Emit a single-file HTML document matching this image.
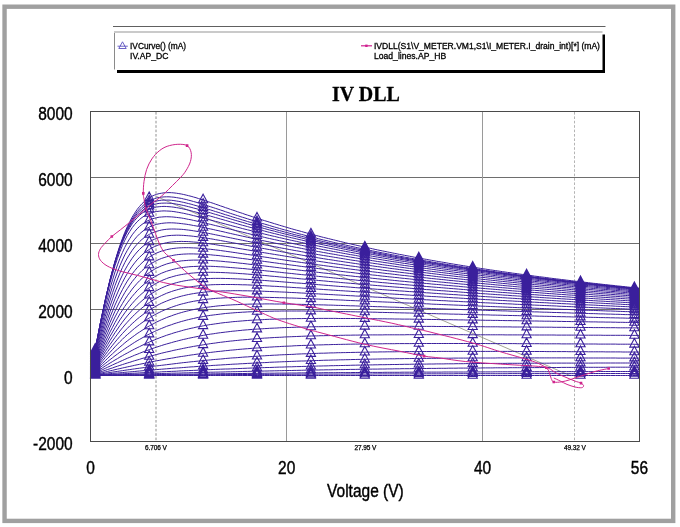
<!DOCTYPE html>
<html><head><meta charset="utf-8"><style>
html,body{margin:0;padding:0;background:#fff;width:680px;height:527px;overflow:hidden}
body{position:relative;font-family:"Liberation Sans",sans-serif}
.t{position:absolute;white-space:nowrap;color:#000;line-height:1;filter:grayscale(1)}
svg{position:absolute;left:0;top:0}
.lg{font-size:8.6px;transform-origin:0 0;-webkit-text-stroke:0.3px #000}
.yl{left:12.7px;width:60px;text-align:right;font-size:15.5px;line-height:15.5px;-webkit-text-stroke:0.35px #000;transform:scaleY(1.22);transform-origin:0 7.57px}
.xl{top:459.8px;width:60px;margin-left:-30px;text-align:center;font-size:15.5px;line-height:15.5px;-webkit-text-stroke:0.35px #000;transform:scaleY(1.22);transform-origin:0 7.57px}
</style></head><body>
<svg width="680" height="527" viewBox="0 0 680 527">
<rect x="4.55" y="6.7" width="668.65" height="514.2" fill="none" stroke="#a0a0a0" stroke-width="4.4"/>
<line x1="113" y1="26.5" x2="605.5" y2="26.5" stroke="#606060" stroke-width="1"/>
<rect x="117" y="34.5" width="488" height="38.5" fill="#000"/>
<rect x="114.5" y="31.5" width="488" height="38.5" fill="#fff"/>
<path d="M114,32 H602.5" fill="none" stroke="#cacaca" stroke-width="2"/>
<path d="M114.5,69.5 V33" fill="none" stroke="#8a8a8a" stroke-width="1"/>
<!-- legend icons -->
<g stroke="#5a50c0" stroke-width="0.9" fill="none"><path d="M122.5,41.8 L126.2,48.5 H118.8 Z"/><path d="M117.5,46.2 H127.8"/></g>
<g stroke="#d02090" stroke-width="1.2"><path d="M361,45.8 H372"/></g>
<rect x="365.2" y="44.6" width="2.4" height="2.4" fill="#d02090"/>
<!-- plot -->
<g stroke="#6e6e6e" stroke-width="1">
<line x1="90.5" y1="177.5" x2="640" y2="177.5"/>
<line x1="90.5" y1="243.5" x2="640" y2="243.5"/>
<line x1="90.5" y1="309.5" x2="640" y2="309.5"/>
</g>
<g stroke="#9a9a9a" stroke-width="1">
<line x1="286.5" y1="111.3" x2="286.5" y2="441.3"/>
<line x1="482.5" y1="111.3" x2="482.5" y2="441.3"/>
</g>
<g stroke="#909090" stroke-width="1" stroke-dasharray="2.6 1.8">
<line x1="156" y1="112" x2="156" y2="441"/>
<line x1="574.5" y1="112" x2="574.5" y2="441" stroke="#b4b4b4"/>
</g>
<line x1="156.5" y1="196.5" x2="570" y2="375.5" stroke="#8c8c78" stroke-width="0.8"/>
<g fill="none" stroke="#3a1f9c" stroke-width="1" stroke-linejoin="round"><path d="M90.5,375.5L91.5,375.5L92.5,375.5L93.4,375.5L94.4,375.4L95.4,375.4L97.9,375.4L100.3,375.4L102.8,375.3L105.2,375.3L107.7,375.3L110.1,375.2L112.6,375.2L115.0,375.2L117.5,375.1L119.9,375.1L122.4,375.0L124.8,375.0L127.3,375.0L129.8,374.9L132.2,374.9L134.7,374.9L137.1,374.8L139.6,374.8L142.0,374.8L144.5,374.7L146.9,374.7L149.4,374.7L151.8,374.6L154.3,374.6L156.7,374.6L159.2,374.5L161.6,374.5L164.1,374.5L166.5,374.4L169.0,374.4L171.5,374.4L173.9,374.3L176.4,374.3L178.8,374.3L181.3,374.2L183.7,374.2L186.2,374.2L188.6,374.1L191.1,374.1L193.5,374.1L196.0,374.0L198.4,374.0L200.9,374.0L203.3,374.0L205.8,373.9L208.2,373.9L210.7,373.9L213.2,373.8L215.6,373.8L218.1,373.8L220.5,373.7L223.0,373.7L225.4,373.7L227.9,373.7L230.3,373.6L232.8,373.6L235.2,373.6L237.7,373.5L240.1,373.5L242.6,373.5L245.0,373.5L247.5,373.4L250.0,373.4L252.4,373.4L254.9,373.4L257.3,373.3L259.8,373.3L262.2,373.3L264.7,373.3L267.1,373.2L269.6,373.2L272.0,373.2L274.5,373.2L276.9,373.1L279.4,373.1L281.8,373.1L284.3,373.1L286.8,373.1L289.2,373.0L291.7,373.0L294.1,373.0L296.6,373.0L299.0,372.9L301.5,372.9L303.9,372.9L306.4,372.9L308.8,372.9L311.3,372.8L313.7,372.8L316.2,372.8L318.6,372.8L321.1,372.8L323.5,372.7L326.0,372.7L328.5,372.7L330.9,372.7L333.4,372.7L335.8,372.7L338.3,372.6L340.7,372.6L343.2,372.6L345.6,372.6L348.1,372.6L350.5,372.6L353.0,372.5L355.4,372.5L357.9,372.5L360.3,372.5L362.8,372.5L365.2,372.5L367.7,372.4L370.2,372.4L372.6,372.4L375.1,372.4L377.5,372.4L380.0,372.4L382.4,372.4L384.9,372.3L387.3,372.3L389.8,372.3L392.2,372.3L394.7,372.3L397.1,372.3L399.6,372.3L402.0,372.2L404.5,372.2L407.0,372.2L409.4,372.2L411.9,372.2L414.3,372.2L416.8,372.2L419.2,372.2L421.7,372.1L424.1,372.1L426.6,372.1L429.0,372.1L431.5,372.1L433.9,372.1L436.4,372.1L438.8,372.1L441.3,372.1L443.8,372.0L446.2,372.0L448.7,372.0L451.1,372.0L453.6,372.0L456.0,372.0L458.5,372.0L460.9,372.0L463.4,372.0L465.8,372.0L468.3,371.9L470.7,371.9L473.2,371.9L475.6,371.9L478.1,371.9L480.5,371.9L483.0,371.9L485.5,371.9L487.9,371.9L490.4,371.9L492.8,371.9L495.3,371.8L497.7,371.8L500.2,371.8L502.6,371.8L505.1,371.8L507.5,371.8L510.0,371.8L512.4,371.8L514.9,371.8L517.3,371.8L519.8,371.8L522.2,371.8L524.7,371.7L527.2,371.7L529.6,371.7L532.1,371.7L534.5,371.7L537.0,371.7L539.4,371.7L541.9,371.7L544.3,371.7L546.8,371.7L549.2,371.7L551.7,371.7L554.1,371.7L556.6,371.7L559.0,371.6L561.5,371.6L564.0,371.6L566.4,371.6L568.9,371.6L571.3,371.6L573.8,371.6L576.2,371.6L578.7,371.6L581.1,371.6L583.6,371.6L586.0,371.6L588.5,371.6L590.9,371.6L593.4,371.6L595.8,371.5L598.3,371.5L600.8,371.5L603.2,371.5L605.7,371.5L608.1,371.5L610.6,371.5L613.0,371.5L615.5,371.5L617.9,371.5L620.4,371.5L622.8,371.5L625.3,371.5L627.7,371.5L630.2,371.5L632.6,371.5L635.1,371.5L637.5,371.4L640.0,371.4"/><path d="M90.5,375.5L91.5,375.5L92.5,375.4L93.4,375.4L94.4,375.4L95.4,375.4L97.9,375.3L100.3,375.2L102.8,375.1L105.2,375.1L107.7,375.0L110.1,374.9L112.6,374.9L115.0,374.8L117.5,374.7L119.9,374.7L122.4,374.6L124.8,374.5L127.3,374.5L129.8,374.4L132.2,374.3L134.7,374.2L137.1,374.2L139.6,374.1L142.0,374.0L144.5,374.0L146.9,373.9L149.4,373.8L151.8,373.8L154.3,373.7L156.7,373.6L159.2,373.6L161.6,373.5L164.1,373.4L166.5,373.4L169.0,373.3L171.5,373.2L173.9,373.2L176.4,373.1L178.8,373.1L181.3,373.0L183.7,372.9L186.2,372.9L188.6,372.8L191.1,372.7L193.5,372.7L196.0,372.6L198.4,372.6L200.9,372.5L203.3,372.4L205.8,372.4L208.2,372.3L210.7,372.2L213.2,372.2L215.6,372.1L218.1,372.1L220.5,372.0L223.0,372.0L225.4,371.9L227.9,371.8L230.3,371.8L232.8,371.7L235.2,371.7L237.7,371.6L240.1,371.6L242.6,371.5L245.0,371.4L247.5,371.4L250.0,371.3L252.4,371.3L254.9,371.2L257.3,371.2L259.8,371.1L262.2,371.1L264.7,371.0L267.1,371.0L269.6,370.9L272.0,370.9L274.5,370.8L276.9,370.8L279.4,370.7L281.8,370.7L284.3,370.6L286.8,370.6L289.2,370.5L291.7,370.5L294.1,370.4L296.6,370.4L299.0,370.3L301.5,370.3L303.9,370.2L306.4,370.2L308.8,370.1L311.3,370.1L313.7,370.1L316.2,370.0L318.6,370.0L321.1,369.9L323.5,369.9L326.0,369.8L328.5,369.8L330.9,369.8L333.4,369.7L335.8,369.7L338.3,369.6L340.7,369.6L343.2,369.6L345.6,369.5L348.1,369.5L350.5,369.4L353.0,369.4L355.4,369.4L357.9,369.3L360.3,369.3L362.8,369.3L365.2,369.2L367.7,369.2L370.2,369.2L372.6,369.1L375.1,369.1L377.5,369.1L380.0,369.0L382.4,369.0L384.9,369.0L387.3,368.9L389.8,368.9L392.2,368.9L394.7,368.8L397.1,368.8L399.6,368.8L402.0,368.7L404.5,368.7L407.0,368.7L409.4,368.7L411.9,368.6L414.3,368.6L416.8,368.6L419.2,368.5L421.7,368.5L424.1,368.5L426.6,368.5L429.0,368.4L431.5,368.4L433.9,368.4L436.4,368.4L438.8,368.3L441.3,368.3L443.8,368.3L446.2,368.3L448.7,368.2L451.1,368.2L453.6,368.2L456.0,368.2L458.5,368.1L460.9,368.1L463.4,368.1L465.8,368.1L468.3,368.1L470.7,368.0L473.2,368.0L475.6,368.0L478.1,368.0L480.5,368.0L483.0,367.9L485.5,367.9L487.9,367.9L490.4,367.9L492.8,367.9L495.3,367.8L497.7,367.8L500.2,367.8L502.6,367.8L505.1,367.8L507.5,367.8L510.0,367.7L512.4,367.7L514.9,367.7L517.3,367.7L519.8,367.7L522.2,367.7L524.7,367.6L527.2,367.6L529.6,367.6L532.1,367.6L534.5,367.6L537.0,367.6L539.4,367.6L541.9,367.5L544.3,367.5L546.8,367.5L549.2,367.5L551.7,367.5L554.1,367.5L556.6,367.5L559.0,367.5L561.5,367.4L564.0,367.4L566.4,367.4L568.9,367.4L571.3,367.4L573.8,367.4L576.2,367.4L578.7,367.4L581.1,367.4L583.6,367.3L586.0,367.3L588.5,367.3L590.9,367.3L593.4,367.3L595.8,367.3L598.3,367.3L600.8,367.3L603.2,367.3L605.7,367.3L608.1,367.2L610.6,367.2L613.0,367.2L615.5,367.2L617.9,367.2L620.4,367.2L622.8,367.2L625.3,367.2L627.7,367.2L630.2,367.2L632.6,367.2L635.1,367.2L637.5,367.2L640.0,367.2"/><path d="M90.5,375.5L91.5,375.4L92.5,375.4L93.4,375.3L94.4,375.3L95.4,375.2L97.9,375.1L100.3,375.0L102.8,374.8L105.2,374.7L107.7,374.6L110.1,374.5L112.6,374.3L115.0,374.2L117.5,374.1L119.9,373.9L122.4,373.8L124.8,373.7L127.3,373.6L129.8,373.4L132.2,373.3L134.7,373.2L137.1,373.1L139.6,372.9L142.0,372.8L144.5,372.7L146.9,372.6L149.4,372.4L151.8,372.3L154.3,372.2L156.7,372.1L159.2,372.0L161.6,371.8L164.1,371.7L166.5,371.6L169.0,371.5L171.5,371.4L173.9,371.3L176.4,371.2L178.8,371.0L181.3,370.9L183.7,370.8L186.2,370.7L188.6,370.6L191.1,370.5L193.5,370.4L196.0,370.3L198.4,370.2L200.9,370.1L203.3,370.0L205.8,369.8L208.2,369.7L210.7,369.6L213.2,369.5L215.6,369.4L218.1,369.3L220.5,369.2L223.0,369.1L225.4,369.0L227.9,369.0L230.3,368.9L232.8,368.8L235.2,368.7L237.7,368.6L240.1,368.5L242.6,368.4L245.0,368.3L247.5,368.2L250.0,368.1L252.4,368.0L254.9,368.0L257.3,367.9L259.8,367.8L262.2,367.7L264.7,367.6L267.1,367.5L269.6,367.5L272.0,367.4L274.5,367.3L276.9,367.2L279.4,367.1L281.8,367.1L284.3,367.0L286.8,366.9L289.2,366.8L291.7,366.8L294.1,366.7L296.6,366.6L299.0,366.6L301.5,366.5L303.9,366.4L306.4,366.4L308.8,366.3L311.3,366.2L313.7,366.2L316.2,366.1L318.6,366.0L321.1,366.0L323.5,365.9L326.0,365.9L328.5,365.8L330.9,365.7L333.4,365.7L335.8,365.6L338.3,365.6L340.7,365.5L343.2,365.5L345.6,365.4L348.1,365.4L350.5,365.3L353.0,365.2L355.4,365.2L357.9,365.1L360.3,365.1L362.8,365.1L365.2,365.0L367.7,365.0L370.2,364.9L372.6,364.9L375.1,364.8L377.5,364.8L380.0,364.7L382.4,364.7L384.9,364.7L387.3,364.6L389.8,364.6L392.2,364.5L394.7,364.5L397.1,364.5L399.6,364.4L402.0,364.4L404.5,364.3L407.0,364.3L409.4,364.3L411.9,364.2L414.3,364.2L416.8,364.2L419.2,364.1L421.7,364.1L424.1,364.1L426.6,364.1L429.0,364.0L431.5,364.0L433.9,364.0L436.4,363.9L438.8,363.9L441.3,363.9L443.8,363.9L446.2,363.8L448.7,363.8L451.1,363.8L453.6,363.8L456.0,363.7L458.5,363.7L460.9,363.7L463.4,363.7L465.8,363.6L468.3,363.6L470.7,363.6L473.2,363.6L475.6,363.6L478.1,363.5L480.5,363.5L483.0,363.5L485.5,363.5L487.9,363.5L490.4,363.5L492.8,363.4L495.3,363.4L497.7,363.4L500.2,363.4L502.6,363.4L505.1,363.4L507.5,363.3L510.0,363.3L512.4,363.3L514.9,363.3L517.3,363.3L519.8,363.3L522.2,363.3L524.7,363.3L527.2,363.2L529.6,363.2L532.1,363.2L534.5,363.2L537.0,363.2L539.4,363.2L541.9,363.2L544.3,363.2L546.8,363.2L549.2,363.2L551.7,363.1L554.1,363.1L556.6,363.1L559.0,363.1L561.5,363.1L564.0,363.1L566.4,363.1L568.9,363.1L571.3,363.1L573.8,363.1L576.2,363.1L578.7,363.1L581.1,363.1L583.6,363.1L586.0,363.1L588.5,363.1L590.9,363.1L593.4,363.1L595.8,363.0L598.3,363.0L600.8,363.0L603.2,363.0L605.7,363.0L608.1,363.0L610.6,363.0L613.0,363.0L615.5,363.0L617.9,363.0L620.4,363.0L622.8,363.0L625.3,363.0L627.7,363.0L630.2,363.0L632.6,363.0L635.1,363.0L637.5,363.0L640.0,363.0"/><path d="M90.5,375.5L91.5,375.4L92.5,375.3L93.4,375.2L94.4,375.1L95.4,375.0L97.9,374.8L100.3,374.6L102.8,374.3L105.2,374.1L107.7,373.9L110.1,373.7L112.6,373.4L115.0,373.2L117.5,373.0L119.9,372.8L122.4,372.6L124.8,372.3L127.3,372.1L129.8,371.9L132.2,371.7L134.7,371.5L137.1,371.2L139.6,371.0L142.0,370.8L144.5,370.6L146.9,370.4L149.4,370.2L151.8,370.0L154.3,369.8L156.7,369.6L159.2,369.4L161.6,369.2L164.1,369.0L166.5,368.8L169.0,368.6L171.5,368.4L173.9,368.2L176.4,368.0L178.8,367.9L181.3,367.7L183.7,367.5L186.2,367.3L188.6,367.1L191.1,366.9L193.5,366.8L196.0,366.6L198.4,366.4L200.9,366.3L203.3,366.1L205.8,365.9L208.2,365.8L210.7,365.6L213.2,365.4L215.6,365.3L218.1,365.1L220.5,365.0L223.0,364.8L225.4,364.7L227.9,364.5L230.3,364.4L232.8,364.2L235.2,364.1L237.7,364.0L240.1,363.8L242.6,363.7L245.0,363.6L247.5,363.4L250.0,363.3L252.4,363.2L254.9,363.0L257.3,362.9L259.8,362.8L262.2,362.7L264.7,362.6L267.1,362.5L269.6,362.3L272.0,362.2L274.5,362.1L276.9,362.0L279.4,361.9L281.8,361.8L284.3,361.7L286.8,361.6L289.2,361.5L291.7,361.4L294.1,361.3L296.6,361.2L299.0,361.1L301.5,361.0L303.9,361.0L306.4,360.9L308.8,360.8L311.3,360.7L313.7,360.6L316.2,360.5L318.6,360.5L321.1,360.4L323.5,360.3L326.0,360.2L328.5,360.2L330.9,360.1L333.4,360.0L335.8,360.0L338.3,359.9L340.7,359.8L343.2,359.8L345.6,359.7L348.1,359.7L350.5,359.6L353.0,359.5L355.4,359.5L357.9,359.4L360.3,359.4L362.8,359.3L365.2,359.3L367.7,359.2L370.2,359.2L372.6,359.1L375.1,359.1L377.5,359.0L380.0,359.0L382.4,358.9L384.9,358.9L387.3,358.9L389.8,358.8L392.2,358.8L394.7,358.8L397.1,358.7L399.6,358.7L402.0,358.7L404.5,358.6L407.0,358.6L409.4,358.6L411.9,358.5L414.3,358.5L416.8,358.5L419.2,358.4L421.7,358.4L424.1,358.4L426.6,358.4L429.0,358.3L431.5,358.3L433.9,358.3L436.4,358.3L438.8,358.3L441.3,358.2L443.8,358.2L446.2,358.2L448.7,358.2L451.1,358.2L453.6,358.1L456.0,358.1L458.5,358.1L460.9,358.1L463.4,358.1L465.8,358.1L468.3,358.1L470.7,358.0L473.2,358.0L475.6,358.0L478.1,358.0L480.5,358.0L483.0,358.0L485.5,358.0L487.9,358.0L490.4,358.0L492.8,358.0L495.3,358.0L497.7,357.9L500.2,357.9L502.6,357.9L505.1,357.9L507.5,357.9L510.0,357.9L512.4,357.9L514.9,357.9L517.3,357.9L519.8,357.9L522.2,357.9L524.7,357.9L527.2,357.9L529.6,357.9L532.1,357.9L534.5,357.9L537.0,357.9L539.4,357.9L541.9,357.9L544.3,357.9L546.8,357.9L549.2,357.9L551.7,357.9L554.1,357.9L556.6,357.9L559.0,357.9L561.5,357.9L564.0,357.9L566.4,357.9L568.9,357.9L571.3,357.9L573.8,357.9L576.2,357.9L578.7,358.0L581.1,358.0L583.6,358.0L586.0,358.0L588.5,358.0L590.9,358.0L593.4,358.0L595.8,358.0L598.3,358.0L600.8,358.0L603.2,358.0L605.7,358.0L608.1,358.0L610.6,358.0L613.0,358.0L615.5,358.0L617.9,358.1L620.4,358.1L622.8,358.1L625.3,358.1L627.7,358.1L630.2,358.1L632.6,358.1L635.1,358.1L637.5,358.1L640.0,358.1"/><path d="M90.5,375.5L91.5,375.3L92.5,375.2L93.4,375.0L94.4,374.9L95.4,374.7L97.9,374.4L100.3,374.0L102.8,373.6L105.2,373.2L107.7,372.9L110.1,372.5L112.6,372.1L115.0,371.8L117.5,371.4L119.9,371.0L122.4,370.7L124.8,370.3L127.3,369.9L129.8,369.6L132.2,369.2L134.7,368.9L137.1,368.5L139.6,368.2L142.0,367.9L144.5,367.5L146.9,367.2L149.4,366.9L151.8,366.5L154.3,366.2L156.7,365.9L159.2,365.6L161.6,365.3L164.1,365.0L166.5,364.7L169.0,364.4L171.5,364.1L173.9,363.8L176.4,363.5L178.8,363.2L181.3,362.9L183.7,362.6L186.2,362.4L188.6,362.1L191.1,361.8L193.5,361.6L196.0,361.3L198.4,361.1L200.9,360.8L203.3,360.6L205.8,360.3L208.2,360.1L210.7,359.9L213.2,359.6L215.6,359.4L218.1,359.2L220.5,359.0L223.0,358.8L225.4,358.5L227.9,358.3L230.3,358.1L232.8,357.9L235.2,357.8L237.7,357.6L240.1,357.4L242.6,357.2L245.0,357.0L247.5,356.9L250.0,356.7L252.4,356.5L254.9,356.4L257.3,356.2L259.8,356.1L262.2,355.9L264.7,355.8L267.1,355.6L269.6,355.5L272.0,355.3L274.5,355.2L276.9,355.1L279.4,354.9L281.8,354.8L284.3,354.7L286.8,354.6L289.2,354.5L291.7,354.4L294.1,354.3L296.6,354.1L299.0,354.0L301.5,353.9L303.9,353.8L306.4,353.8L308.8,353.7L311.3,353.6L313.7,353.5L316.2,353.4L318.6,353.3L321.1,353.2L323.5,353.2L326.0,353.1L328.5,353.0L330.9,352.9L333.4,352.9L335.8,352.8L338.3,352.7L340.7,352.7L343.2,352.6L345.6,352.6L348.1,352.5L350.5,352.5L353.0,352.4L355.4,352.4L357.9,352.3L360.3,352.3L362.8,352.2L365.2,352.2L367.7,352.1L370.2,352.1L372.6,352.0L375.1,352.0L377.5,352.0L380.0,351.9L382.4,351.9L384.9,351.9L387.3,351.8L389.8,351.8L392.2,351.8L394.7,351.8L397.1,351.7L399.6,351.7L402.0,351.7L404.5,351.7L407.0,351.6L409.4,351.6L411.9,351.6L414.3,351.6L416.8,351.6L419.2,351.5L421.7,351.5L424.1,351.5L426.6,351.5L429.0,351.5L431.5,351.5L433.9,351.5L436.4,351.5L438.8,351.4L441.3,351.4L443.8,351.4L446.2,351.4L448.7,351.4L451.1,351.4L453.6,351.4L456.0,351.4L458.5,351.4L460.9,351.4L463.4,351.4L465.8,351.4L468.3,351.4L470.7,351.4L473.2,351.4L475.6,351.4L478.1,351.4L480.5,351.4L483.0,351.4L485.5,351.4L487.9,351.4L490.4,351.4L492.8,351.4L495.3,351.4L497.7,351.4L500.2,351.4L502.6,351.4L505.1,351.4L507.5,351.4L510.0,351.4L512.4,351.4L514.9,351.4L517.3,351.5L519.8,351.5L522.2,351.5L524.7,351.5L527.2,351.5L529.6,351.5L532.1,351.5L534.5,351.5L537.0,351.5L539.4,351.5L541.9,351.5L544.3,351.5L546.8,351.6L549.2,351.6L551.7,351.6L554.1,351.6L556.6,351.6L559.0,351.6L561.5,351.6L564.0,351.6L566.4,351.6L568.9,351.7L571.3,351.7L573.8,351.7L576.2,351.7L578.7,351.7L581.1,351.7L583.6,351.7L586.0,351.7L588.5,351.8L590.9,351.8L593.4,351.8L595.8,351.8L598.3,351.8L600.8,351.8L603.2,351.8L605.7,351.9L608.1,351.9L610.6,351.9L613.0,351.9L615.5,351.9L617.9,351.9L620.4,351.9L622.8,352.0L625.3,352.0L627.7,352.0L630.2,352.0L632.6,352.0L635.1,352.0L637.5,352.0L640.0,352.1"/><path d="M90.5,375.5L91.5,375.3L92.5,375.0L93.4,374.8L94.4,374.6L95.4,374.3L97.9,373.7L100.3,373.2L102.8,372.6L105.2,372.0L107.7,371.4L110.1,370.8L112.6,370.3L115.0,369.7L117.5,369.1L119.9,368.6L122.4,368.0L124.8,367.5L127.3,366.9L129.8,366.4L132.2,365.9L134.7,365.3L137.1,364.8L139.6,364.3L142.0,363.8L144.5,363.3L146.9,362.8L149.4,362.3L151.8,361.8L154.3,361.3L156.7,360.8L159.2,360.4L161.6,359.9L164.1,359.5L166.5,359.0L169.0,358.6L171.5,358.2L173.9,357.8L176.4,357.3L178.8,356.9L181.3,356.5L183.7,356.2L186.2,355.8L188.6,355.4L191.1,355.0L193.5,354.7L196.0,354.3L198.4,354.0L200.9,353.7L203.3,353.3L205.8,353.0L208.2,352.7L210.7,352.4L213.2,352.1L215.6,351.8L218.1,351.5L220.5,351.3L223.0,351.0L225.4,350.7L227.9,350.5L230.3,350.2L232.8,350.0L235.2,349.8L237.7,349.5L240.1,349.3L242.6,349.1L245.0,348.9L247.5,348.7L250.0,348.5L252.4,348.3L254.9,348.1L257.3,348.0L259.8,347.8L262.2,347.6L264.7,347.4L267.1,347.3L269.6,347.1L272.0,347.0L274.5,346.8L276.9,346.7L279.4,346.6L281.8,346.4L284.3,346.3L286.8,346.2L289.2,346.1L291.7,346.0L294.1,345.8L296.6,345.7L299.0,345.6L301.5,345.5L303.9,345.4L306.4,345.4L308.8,345.3L311.3,345.2L313.7,345.1L316.2,345.0L318.6,344.9L321.1,344.9L323.5,344.8L326.0,344.7L328.5,344.7L330.9,344.6L333.4,344.5L335.8,344.5L338.3,344.4L340.7,344.4L343.2,344.3L345.6,344.3L348.1,344.2L350.5,344.2L353.0,344.1L355.4,344.1L357.9,344.1L360.3,344.0L362.8,344.0L365.2,343.9L367.7,343.9L370.2,343.9L372.6,343.9L375.1,343.8L377.5,343.8L380.0,343.8L382.4,343.8L384.9,343.7L387.3,343.7L389.8,343.7L392.2,343.7L394.7,343.7L397.1,343.6L399.6,343.6L402.0,343.6L404.5,343.6L407.0,343.6L409.4,343.6L411.9,343.6L414.3,343.5L416.8,343.5L419.2,343.5L421.7,343.5L424.1,343.5L426.6,343.5L429.0,343.5L431.5,343.5L433.9,343.5L436.4,343.5L438.8,343.5L441.3,343.5L443.8,343.5L446.2,343.5L448.7,343.5L451.1,343.5L453.6,343.5L456.0,343.5L458.5,343.5L460.9,343.5L463.4,343.5L465.8,343.5L468.3,343.5L470.7,343.5L473.2,343.5L475.6,343.5L478.1,343.5L480.5,343.5L483.0,343.5L485.5,343.5L487.9,343.6L490.4,343.6L492.8,343.6L495.3,343.6L497.7,343.6L500.2,343.6L502.6,343.6L505.1,343.6L507.5,343.6L510.0,343.6L512.4,343.6L514.9,343.6L517.3,343.7L519.8,343.7L522.2,343.7L524.7,343.7L527.2,343.7L529.6,343.7L532.1,343.7L534.5,343.7L537.0,343.7L539.4,343.7L541.9,343.8L544.3,343.8L546.8,343.8L549.2,343.8L551.7,343.8L554.1,343.8L556.6,343.8L559.0,343.8L561.5,343.9L564.0,343.9L566.4,343.9L568.9,343.9L571.3,343.9L573.8,343.9L576.2,343.9L578.7,343.9L581.1,344.0L583.6,344.0L586.0,344.0L588.5,344.0L590.9,344.0L593.4,344.0L595.8,344.0L598.3,344.1L600.8,344.1L603.2,344.1L605.7,344.1L608.1,344.1L610.6,344.1L613.0,344.1L615.5,344.1L617.9,344.2L620.4,344.2L622.8,344.2L625.3,344.2L627.7,344.2L630.2,344.2L632.6,344.2L635.1,344.3L637.5,344.3L640.0,344.3"/><path d="M90.5,375.5L91.5,375.2L92.5,374.8L93.4,374.5L94.4,374.1L95.4,373.8L97.9,372.9L100.3,372.1L102.8,371.2L105.2,370.4L107.7,369.5L110.1,368.7L112.6,367.9L115.0,367.0L117.5,366.2L119.9,365.4L122.4,364.6L124.8,363.8L127.3,363.0L129.8,362.3L132.2,361.5L134.7,360.7L137.1,360.0L139.6,359.3L142.0,358.5L144.5,357.8L146.9,357.1L149.4,356.5L151.8,355.8L154.3,355.1L156.7,354.5L159.2,353.8L161.6,353.2L164.1,352.6L166.5,352.0L169.0,351.5L171.5,350.9L173.9,350.3L176.4,349.8L178.8,349.3L181.3,348.8L183.7,348.3L186.2,347.8L188.6,347.3L191.1,346.9L193.5,346.4L196.0,346.0L198.4,345.6L200.9,345.2L203.3,344.8L205.8,344.4L208.2,344.0L210.7,343.6L213.2,343.3L215.6,343.0L218.1,342.6L220.5,342.3L223.0,342.0L225.4,341.7L227.9,341.4L230.3,341.1L232.8,340.9L235.2,340.6L237.7,340.4L240.1,340.1L242.6,339.9L245.0,339.7L247.5,339.5L250.0,339.2L252.4,339.0L254.9,338.9L257.3,338.7L259.8,338.5L262.2,338.3L264.7,338.1L267.1,338.0L269.6,337.8L272.0,337.7L274.5,337.5L276.9,337.4L279.4,337.3L281.8,337.2L284.3,337.0L286.8,336.9L289.2,336.8L291.7,336.7L294.1,336.6L296.6,336.5L299.0,336.4L301.5,336.3L303.9,336.2L306.4,336.1L308.8,336.1L311.3,336.0L313.7,335.9L316.2,335.9L318.6,335.8L321.1,335.7L323.5,335.7L326.0,335.6L328.5,335.6L330.9,335.5L333.4,335.5L335.8,335.4L338.3,335.4L340.7,335.3L343.2,335.3L345.6,335.2L348.1,335.2L350.5,335.2L353.0,335.1L355.4,335.1L357.9,335.1L360.3,335.0L362.8,335.0L365.2,335.0L367.7,335.0L370.2,334.9L372.6,334.9L375.1,334.9L377.5,334.9L380.0,334.9L382.4,334.9L384.9,334.8L387.3,334.8L389.8,334.8L392.2,334.8L394.7,334.8L397.1,334.8L399.6,334.8L402.0,334.8L404.5,334.8L407.0,334.7L409.4,334.7L411.9,334.7L414.3,334.7L416.8,334.7L419.2,334.7L421.7,334.7L424.1,334.7L426.6,334.7L429.0,334.7L431.5,334.7L433.9,334.7L436.4,334.7L438.8,334.7L441.3,334.7L443.8,334.7L446.2,334.7L448.7,334.7L451.1,334.7L453.6,334.7L456.0,334.7L458.5,334.7L460.9,334.7L463.4,334.7L465.8,334.8L468.3,334.8L470.7,334.8L473.2,334.8L475.6,334.8L478.1,334.8L480.5,334.8L483.0,334.8L485.5,334.8L487.9,334.8L490.4,334.8L492.8,334.8L495.3,334.8L497.7,334.8L500.2,334.8L502.6,334.8L505.1,334.9L507.5,334.9L510.0,334.9L512.4,334.9L514.9,334.9L517.3,334.9L519.8,334.9L522.2,334.9L524.7,334.9L527.2,334.9L529.6,334.9L532.1,335.0L534.5,335.0L537.0,335.0L539.4,335.0L541.9,335.0L544.3,335.0L546.8,335.0L549.2,335.0L551.7,335.0L554.1,335.0L556.6,335.1L559.0,335.1L561.5,335.1L564.0,335.1L566.4,335.1L568.9,335.1L571.3,335.1L573.8,335.1L576.2,335.1L578.7,335.1L581.1,335.2L583.6,335.2L586.0,335.2L588.5,335.2L590.9,335.2L593.4,335.2L595.8,335.2L598.3,335.2L600.8,335.2L603.2,335.3L605.7,335.3L608.1,335.3L610.6,335.3L613.0,335.3L615.5,335.3L617.9,335.3L620.4,335.3L622.8,335.3L625.3,335.3L627.7,335.4L630.2,335.4L632.6,335.4L635.1,335.4L637.5,335.4L640.0,335.4"/><path d="M90.5,375.5L91.5,375.0L92.5,374.5L93.4,374.1L94.4,373.6L95.4,373.1L97.9,371.9L100.3,370.7L102.8,369.5L105.2,368.4L107.7,367.2L110.1,366.1L112.6,364.9L115.0,363.8L117.5,362.7L119.9,361.6L122.4,360.5L124.8,359.4L127.3,358.3L129.8,357.3L132.2,356.3L134.7,355.2L137.1,354.3L139.6,353.3L142.0,352.3L144.5,351.4L146.9,350.5L149.4,349.6L151.8,348.7L154.3,347.9L156.7,347.1L159.2,346.3L161.6,345.5L164.1,344.7L166.5,344.0L169.0,343.3L171.5,342.6L173.9,341.9L176.4,341.3L178.8,340.6L181.3,340.0L183.7,339.4L186.2,338.9L188.6,338.3L191.1,337.8L193.5,337.3L196.0,336.8L198.4,336.3L200.9,335.8L203.3,335.4L205.8,334.9L208.2,334.5L210.7,334.1L213.2,333.8L215.6,333.4L218.1,333.0L220.5,332.7L223.0,332.4L225.4,332.1L227.9,331.8L230.3,331.5L232.8,331.2L235.2,331.0L237.7,330.7L240.1,330.5L242.6,330.2L245.0,330.0L247.5,329.8L250.0,329.6L252.4,329.4L254.9,329.2L257.3,329.1L259.8,328.9L262.2,328.8L264.7,328.6L267.1,328.5L269.6,328.3L272.0,328.2L274.5,328.1L276.9,328.0L279.4,327.8L281.8,327.7L284.3,327.6L286.8,327.5L289.2,327.5L291.7,327.4L294.1,327.3L296.6,327.2L299.0,327.1L301.5,327.1L303.9,327.0L306.4,327.0L308.8,326.9L311.3,326.8L313.7,326.8L316.2,326.7L318.6,326.7L321.1,326.7L323.5,326.6L326.0,326.6L328.5,326.6L330.9,326.5L333.4,326.5L335.8,326.5L338.3,326.4L340.7,326.4L343.2,326.4L345.6,326.4L348.1,326.4L350.5,326.4L353.0,326.3L355.4,326.3L357.9,326.3L360.3,326.3L362.8,326.3L365.2,326.3L367.7,326.3L370.2,326.3L372.6,326.3L375.1,326.3L377.5,326.3L380.0,326.3L382.4,326.3L384.9,326.3L387.3,326.3L389.8,326.3L392.2,326.3L394.7,326.3L397.1,326.3L399.6,326.3L402.0,326.3L404.5,326.3L407.0,326.3L409.4,326.3L411.9,326.3L414.3,326.4L416.8,326.4L419.2,326.4L421.7,326.4L424.1,326.4L426.6,326.4L429.0,326.4L431.5,326.4L433.9,326.4L436.4,326.5L438.8,326.5L441.3,326.5L443.8,326.5L446.2,326.5L448.7,326.5L451.1,326.5L453.6,326.6L456.0,326.6L458.5,326.6L460.9,326.6L463.4,326.6L465.8,326.6L468.3,326.6L470.7,326.7L473.2,326.7L475.6,326.7L478.1,326.7L480.5,326.7L483.0,326.7L485.5,326.8L487.9,326.8L490.4,326.8L492.8,326.8L495.3,326.8L497.7,326.8L500.2,326.9L502.6,326.9L505.1,326.9L507.5,326.9L510.0,326.9L512.4,327.0L514.9,327.0L517.3,327.0L519.8,327.0L522.2,327.0L524.7,327.0L527.2,327.1L529.6,327.1L532.1,327.1L534.5,327.1L537.0,327.1L539.4,327.2L541.9,327.2L544.3,327.2L546.8,327.2L549.2,327.2L551.7,327.2L554.1,327.3L556.6,327.3L559.0,327.3L561.5,327.3L564.0,327.3L566.4,327.4L568.9,327.4L571.3,327.4L573.8,327.4L576.2,327.4L578.7,327.5L581.1,327.5L583.6,327.5L586.0,327.5L588.5,327.5L590.9,327.5L593.4,327.6L595.8,327.6L598.3,327.6L600.8,327.6L603.2,327.6L605.7,327.7L608.1,327.7L610.6,327.7L613.0,327.7L615.5,327.7L617.9,327.8L620.4,327.8L622.8,327.8L625.3,327.8L627.7,327.8L630.2,327.8L632.6,327.9L635.1,327.9L637.5,327.9L640.0,327.9"/><path d="M90.5,375.5L91.5,374.9L92.5,374.2L93.4,373.6L94.4,373.0L95.4,372.3L97.9,370.7L100.3,369.2L102.8,367.6L105.2,366.0L107.7,364.5L110.1,363.0L112.6,361.5L115.0,360.0L117.5,358.6L119.9,357.1L122.4,355.7L124.8,354.3L127.3,353.0L129.8,351.6L132.2,350.3L134.7,349.0L137.1,347.8L139.6,346.6L142.0,345.4L144.5,344.2L146.9,343.1L149.4,342.0L151.8,341.0L154.3,340.0L156.7,339.0L159.2,338.0L161.6,337.1L164.1,336.2L166.5,335.3L169.0,334.5L171.5,333.7L173.9,332.9L176.4,332.2L178.8,331.5L181.3,330.8L183.7,330.1L186.2,329.5L188.6,328.9L191.1,328.3L193.5,327.8L196.0,327.2L198.4,326.7L200.9,326.3L203.3,325.8L205.8,325.4L208.2,324.9L210.7,324.5L213.2,324.2L215.6,323.8L218.1,323.5L220.5,323.1L223.0,322.8L225.4,322.5L227.9,322.3L230.3,322.0L232.8,321.7L235.2,321.5L237.7,321.3L240.1,321.1L242.6,320.9L245.0,320.7L247.5,320.5L250.0,320.3L252.4,320.2L254.9,320.0L257.3,319.9L259.8,319.8L262.2,319.7L264.7,319.5L267.1,319.4L269.6,319.3L272.0,319.2L274.5,319.2L276.9,319.1L279.4,319.0L281.8,318.9L284.3,318.9L286.8,318.8L289.2,318.8L291.7,318.7L294.1,318.7L296.6,318.6L299.0,318.6L301.5,318.6L303.9,318.5L306.4,318.5L308.8,318.5L311.3,318.5L313.7,318.5L316.2,318.5L318.6,318.4L321.1,318.4L323.5,318.4L326.0,318.4L328.5,318.4L330.9,318.4L333.4,318.4L335.8,318.4L338.3,318.5L340.7,318.5L343.2,318.5L345.6,318.5L348.1,318.5L350.5,318.5L353.0,318.5L355.4,318.5L357.9,318.6L360.3,318.6L362.8,318.6L365.2,318.6L367.7,318.7L370.2,318.7L372.6,318.7L375.1,318.7L377.5,318.8L380.0,318.8L382.4,318.8L384.9,318.8L387.3,318.9L389.8,318.9L392.2,318.9L394.7,319.0L397.1,319.0L399.6,319.0L402.0,319.1L404.5,319.1L407.0,319.1L409.4,319.1L411.9,319.2L414.3,319.2L416.8,319.2L419.2,319.3L421.7,319.3L424.1,319.4L426.6,319.4L429.0,319.4L431.5,319.5L433.9,319.5L436.4,319.5L438.8,319.6L441.3,319.6L443.8,319.6L446.2,319.7L448.7,319.7L451.1,319.7L453.6,319.8L456.0,319.8L458.5,319.9L460.9,319.9L463.4,319.9L465.8,320.0L468.3,320.0L470.7,320.0L473.2,320.1L475.6,320.1L478.1,320.1L480.5,320.2L483.0,320.2L485.5,320.3L487.9,320.3L490.4,320.3L492.8,320.4L495.3,320.4L497.7,320.4L500.2,320.5L502.6,320.5L505.1,320.6L507.5,320.6L510.0,320.6L512.4,320.7L514.9,320.7L517.3,320.7L519.8,320.8L522.2,320.8L524.7,320.9L527.2,320.9L529.6,320.9L532.1,321.0L534.5,321.0L537.0,321.0L539.4,321.1L541.9,321.1L544.3,321.2L546.8,321.2L549.2,321.2L551.7,321.3L554.1,321.3L556.6,321.3L559.0,321.4L561.5,321.4L564.0,321.5L566.4,321.5L568.9,321.5L571.3,321.6L573.8,321.6L576.2,321.6L578.7,321.7L581.1,321.7L583.6,321.7L586.0,321.8L588.5,321.8L590.9,321.9L593.4,321.9L595.8,321.9L598.3,322.0L600.8,322.0L603.2,322.0L605.7,322.1L608.1,322.1L610.6,322.1L613.0,322.2L615.5,322.2L617.9,322.3L620.4,322.3L622.8,322.3L625.3,322.4L627.7,322.4L630.2,322.4L632.6,322.5L635.1,322.5L637.5,322.5L640.0,322.6"/><path d="M90.5,375.5L91.5,374.7L92.5,373.9L93.4,373.1L94.4,372.2L95.4,371.4L97.9,369.4L100.3,367.4L102.8,365.4L105.2,363.5L107.7,361.5L110.1,359.6L112.6,357.7L115.0,355.8L117.5,354.0L119.9,352.2L122.4,350.5L124.8,348.8L127.3,347.1L129.8,345.5L132.2,343.9L134.7,342.3L137.1,340.8L139.6,339.4L142.0,338.0L144.5,336.6L146.9,335.3L149.4,334.0L151.8,332.8L154.3,331.6L156.7,330.5L159.2,329.4L161.6,328.4L164.1,327.4L166.5,326.4L169.0,325.5L171.5,324.7L173.9,323.8L176.4,323.0L178.8,322.3L181.3,321.5L183.7,320.9L186.2,320.2L188.6,319.6L191.1,319.0L193.5,318.5L196.0,317.9L198.4,317.4L200.9,317.0L203.3,316.5L205.8,316.1L208.2,315.7L210.7,315.3L213.2,315.0L215.6,314.7L218.1,314.4L220.5,314.1L223.0,313.8L225.4,313.5L227.9,313.3L230.3,313.1L232.8,312.9L235.2,312.7L237.7,312.5L240.1,312.4L242.6,312.2L245.0,312.1L247.5,311.9L250.0,311.8L252.4,311.7L254.9,311.6L257.3,311.5L259.8,311.5L262.2,311.4L264.7,311.3L267.1,311.3L269.6,311.2L272.0,311.2L274.5,311.1L276.9,311.1L279.4,311.1L281.8,311.0L284.3,311.0L286.8,311.0L289.2,311.0L291.7,311.0L294.1,311.0L296.6,311.0L299.0,311.0L301.5,311.0L303.9,311.0L306.4,311.1L308.8,311.1L311.3,311.1L313.7,311.1L316.2,311.2L318.6,311.2L321.1,311.2L323.5,311.3L326.0,311.3L328.5,311.3L330.9,311.4L333.4,311.4L335.8,311.4L338.3,311.5L340.7,311.5L343.2,311.6L345.6,311.6L348.1,311.7L350.5,311.7L353.0,311.8L355.4,311.8L357.9,311.9L360.3,311.9L362.8,312.0L365.2,312.0L367.7,312.1L370.2,312.1L372.6,312.2L375.1,312.2L377.5,312.3L380.0,312.4L382.4,312.4L384.9,312.5L387.3,312.5L389.8,312.6L392.2,312.6L394.7,312.7L397.1,312.8L399.6,312.8L402.0,312.9L404.5,312.9L407.0,313.0L409.4,313.0L411.9,313.1L414.3,313.2L416.8,313.2L419.2,313.3L421.7,313.3L424.1,313.4L426.6,313.5L429.0,313.5L431.5,313.6L433.9,313.6L436.4,313.7L438.8,313.8L441.3,313.8L443.8,313.9L446.2,313.9L448.7,314.0L451.1,314.1L453.6,314.1L456.0,314.2L458.5,314.2L460.9,314.3L463.4,314.4L465.8,314.4L468.3,314.5L470.7,314.5L473.2,314.6L475.6,314.7L478.1,314.7L480.5,314.8L483.0,314.8L485.5,314.9L487.9,314.9L490.4,315.0L492.8,315.1L495.3,315.1L497.7,315.2L500.2,315.2L502.6,315.3L505.1,315.4L507.5,315.4L510.0,315.5L512.4,315.5L514.9,315.6L517.3,315.6L519.8,315.7L522.2,315.8L524.7,315.8L527.2,315.9L529.6,315.9L532.1,316.0L534.5,316.0L537.0,316.1L539.4,316.2L541.9,316.2L544.3,316.3L546.8,316.3L549.2,316.4L551.7,316.4L554.1,316.5L556.6,316.6L559.0,316.6L561.5,316.7L564.0,316.7L566.4,316.8L568.9,316.8L571.3,316.9L573.8,317.0L576.2,317.0L578.7,317.1L581.1,317.1L583.6,317.2L586.0,317.2L588.5,317.3L590.9,317.3L593.4,317.4L595.8,317.4L598.3,317.5L600.8,317.6L603.2,317.6L605.7,317.7L608.1,317.7L610.6,317.8L613.0,317.8L615.5,317.9L617.9,317.9L620.4,318.0L622.8,318.0L625.3,318.1L627.7,318.2L630.2,318.2L632.6,318.3L635.1,318.3L637.5,318.4L640.0,318.4"/><path d="M90.5,375.5L91.5,374.5L92.5,373.5L93.4,372.5L94.4,371.5L95.4,370.5L97.9,368.0L100.3,365.5L102.8,363.1L105.2,360.7L107.7,358.3L110.1,355.9L112.6,353.7L115.0,351.4L117.5,349.2L119.9,347.1L122.4,345.0L124.8,342.9L127.3,340.9L129.8,339.0L132.2,337.2L134.7,335.4L137.1,333.6L139.6,332.0L142.0,330.4L144.5,328.8L146.9,327.3L149.4,325.9L151.8,324.6L154.3,323.3L156.7,322.0L159.2,320.8L161.6,319.7L164.1,318.7L166.5,317.6L169.0,316.7L171.5,315.8L173.9,314.9L176.4,314.1L178.8,313.3L181.3,312.6L183.7,311.9L186.2,311.3L188.6,310.7L191.1,310.1L193.5,309.6L196.0,309.1L198.4,308.6L200.9,308.2L203.3,307.8L205.8,307.4L208.2,307.1L210.7,306.8L213.2,306.5L215.6,306.2L218.1,305.9L220.5,305.7L223.0,305.5L225.4,305.3L227.9,305.1L230.3,305.0L232.8,304.8L235.2,304.7L237.7,304.6L240.1,304.4L242.6,304.4L245.0,304.3L247.5,304.2L250.0,304.1L252.4,304.1L254.9,304.0L257.3,304.0L259.8,304.0L262.2,304.0L264.7,303.9L267.1,303.9L269.6,303.9L272.0,303.9L274.5,304.0L276.9,304.0L279.4,304.0L281.8,304.0L284.3,304.1L286.8,304.1L289.2,304.1L291.7,304.2L294.1,304.2L296.6,304.3L299.0,304.3L301.5,304.4L303.9,304.4L306.4,304.5L308.8,304.5L311.3,304.6L313.7,304.7L316.2,304.7L318.6,304.8L321.1,304.9L323.5,304.9L326.0,305.0L328.5,305.1L330.9,305.1L333.4,305.2L335.8,305.3L338.3,305.4L340.7,305.4L343.2,305.5L345.6,305.6L348.1,305.7L350.5,305.8L353.0,305.8L355.4,305.9L357.9,306.0L360.3,306.1L362.8,306.2L365.2,306.2L367.7,306.3L370.2,306.4L372.6,306.5L375.1,306.6L377.5,306.7L380.0,306.7L382.4,306.8L384.9,306.9L387.3,307.0L389.8,307.1L392.2,307.2L394.7,307.2L397.1,307.3L399.6,307.4L402.0,307.5L404.5,307.6L407.0,307.7L409.4,307.8L411.9,307.8L414.3,307.9L416.8,308.0L419.2,308.1L421.7,308.2L424.1,308.3L426.6,308.3L429.0,308.4L431.5,308.5L433.9,308.6L436.4,308.7L438.8,308.8L441.3,308.8L443.8,308.9L446.2,309.0L448.7,309.1L451.1,309.2L453.6,309.2L456.0,309.3L458.5,309.4L460.9,309.5L463.4,309.6L465.8,309.7L468.3,309.7L470.7,309.8L473.2,309.9L475.6,310.0L478.1,310.1L480.5,310.1L483.0,310.2L485.5,310.3L487.9,310.4L490.4,310.5L492.8,310.5L495.3,310.6L497.7,310.7L500.2,310.8L502.6,310.9L505.1,310.9L507.5,311.0L510.0,311.1L512.4,311.2L514.9,311.2L517.3,311.3L519.8,311.4L522.2,311.5L524.7,311.6L527.2,311.6L529.6,311.7L532.1,311.8L534.5,311.9L537.0,311.9L539.4,312.0L541.9,312.1L544.3,312.2L546.8,312.2L549.2,312.3L551.7,312.4L554.1,312.5L556.6,312.5L559.0,312.6L561.5,312.7L564.0,312.8L566.4,312.8L568.9,312.9L571.3,313.0L573.8,313.1L576.2,313.1L578.7,313.2L581.1,313.3L583.6,313.3L586.0,313.4L588.5,313.5L590.9,313.6L593.4,313.6L595.8,313.7L598.3,313.8L600.8,313.9L603.2,313.9L605.7,314.0L608.1,314.1L610.6,314.1L613.0,314.2L615.5,314.3L617.9,314.3L620.4,314.4L622.8,314.5L625.3,314.6L627.7,314.6L630.2,314.7L632.6,314.8L635.1,314.8L637.5,314.9L640.0,315.0"/><path d="M90.5,375.5L91.5,374.3L92.5,373.1L93.4,371.9L94.4,370.7L95.4,369.5L97.9,366.5L100.3,363.5L102.8,360.6L105.2,357.7L107.7,354.9L110.1,352.2L112.6,349.5L115.0,346.8L117.5,344.2L119.9,341.7L122.4,339.3L124.8,336.9L127.3,334.7L129.8,332.5L132.2,330.4L134.7,328.3L137.1,326.4L139.6,324.5L142.0,322.7L144.5,321.0L146.9,319.4L149.4,317.9L151.8,316.4L154.3,315.0L156.7,313.7L159.2,312.5L161.6,311.3L164.1,310.2L166.5,309.2L169.0,308.2L171.5,307.3L173.9,306.4L176.4,305.6L178.8,304.8L181.3,304.1L183.7,303.5L186.2,302.9L188.6,302.3L191.1,301.8L193.5,301.3L196.0,300.9L198.4,300.5L200.9,300.1L203.3,299.7L205.8,299.4L208.2,299.1L210.7,298.9L213.2,298.6L215.6,298.4L218.1,298.2L220.5,298.1L223.0,297.9L225.4,297.8L227.9,297.7L230.3,297.5L232.8,297.5L235.2,297.4L237.7,297.3L240.1,297.3L242.6,297.2L245.0,297.2L247.5,297.2L250.0,297.2L252.4,297.2L254.9,297.2L257.3,297.2L259.8,297.3L262.2,297.3L264.7,297.3L267.1,297.4L269.6,297.4L272.0,297.5L274.5,297.5L276.9,297.6L279.4,297.7L281.8,297.7L284.3,297.8L286.8,297.9L289.2,298.0L291.7,298.0L294.1,298.1L296.6,298.2L299.0,298.3L301.5,298.4L303.9,298.5L306.4,298.6L308.8,298.7L311.3,298.8L313.7,298.9L316.2,299.0L318.6,299.1L321.1,299.2L323.5,299.3L326.0,299.4L328.5,299.5L330.9,299.6L333.4,299.7L335.8,299.8L338.3,299.9L340.7,300.0L343.2,300.1L345.6,300.3L348.1,300.4L350.5,300.5L353.0,300.6L355.4,300.7L357.9,300.8L360.3,300.9L362.8,301.0L365.2,301.1L367.7,301.2L370.2,301.4L372.6,301.5L375.1,301.6L377.5,301.7L380.0,301.8L382.4,301.9L384.9,302.0L387.3,302.1L389.8,302.2L392.2,302.3L394.7,302.4L397.1,302.6L399.6,302.7L402.0,302.8L404.5,302.9L407.0,303.0L409.4,303.1L411.9,303.2L414.3,303.3L416.8,303.4L419.2,303.5L421.7,303.6L424.1,303.7L426.6,303.8L429.0,303.9L431.5,304.1L433.9,304.2L436.4,304.3L438.8,304.4L441.3,304.5L443.8,304.6L446.2,304.7L448.7,304.8L451.1,304.9L453.6,305.0L456.0,305.1L458.5,305.2L460.9,305.3L463.4,305.4L465.8,305.5L468.3,305.6L470.7,305.7L473.2,305.8L475.6,305.9L478.1,306.0L480.5,306.1L483.0,306.2L485.5,306.3L487.9,306.4L490.4,306.5L492.8,306.6L495.3,306.7L497.7,306.8L500.2,306.9L502.6,307.0L505.1,307.1L507.5,307.2L510.0,307.3L512.4,307.4L514.9,307.5L517.3,307.6L519.8,307.7L522.2,307.8L524.7,307.9L527.2,308.0L529.6,308.1L532.1,308.1L534.5,308.2L537.0,308.3L539.4,308.4L541.9,308.5L544.3,308.6L546.8,308.7L549.2,308.8L551.7,308.9L554.1,309.0L556.6,309.1L559.0,309.2L561.5,309.3L564.0,309.4L566.4,309.4L568.9,309.5L571.3,309.6L573.8,309.7L576.2,309.8L578.7,309.9L581.1,310.0L583.6,310.1L586.0,310.2L588.5,310.3L590.9,310.3L593.4,310.4L595.8,310.5L598.3,310.6L600.8,310.7L603.2,310.8L605.7,310.9L608.1,311.0L610.6,311.0L613.0,311.1L615.5,311.2L617.9,311.3L620.4,311.4L622.8,311.5L625.3,311.6L627.7,311.6L630.2,311.7L632.6,311.8L635.1,311.9L637.5,312.0L640.0,312.1"/><path d="M90.5,375.5L91.5,374.1L92.5,372.7L93.4,371.2L94.4,369.8L95.4,368.4L97.9,364.9L100.3,361.5L102.8,358.1L105.2,354.8L107.7,351.5L110.1,348.3L112.6,345.2L115.0,342.2L117.5,339.2L119.9,336.4L122.4,333.6L124.8,331.0L127.3,328.4L129.8,325.9L132.2,323.6L134.7,321.4L137.1,319.2L139.6,317.2L142.0,315.3L144.5,313.4L146.9,311.7L149.4,310.1L151.8,308.5L154.3,307.1L156.7,305.7L159.2,304.4L161.6,303.2L164.1,302.1L166.5,301.1L169.0,300.1L171.5,299.2L173.9,298.4L176.4,297.6L178.8,296.9L181.3,296.2L183.7,295.6L186.2,295.0L188.6,294.5L191.1,294.0L193.5,293.6L196.0,293.2L198.4,292.9L200.9,292.6L203.3,292.3L205.8,292.0L208.2,291.8L210.7,291.6L213.2,291.4L215.6,291.3L218.1,291.1L220.5,291.0L223.0,290.9L225.4,290.9L227.9,290.8L230.3,290.8L232.8,290.7L235.2,290.7L237.7,290.7L240.1,290.7L242.6,290.8L245.0,290.8L247.5,290.8L250.0,290.9L252.4,290.9L254.9,291.0L257.3,291.1L259.8,291.1L262.2,291.2L264.7,291.3L267.1,291.4L269.6,291.5L272.0,291.6L274.5,291.7L276.9,291.8L279.4,291.9L281.8,292.0L284.3,292.1L286.8,292.2L289.2,292.4L291.7,292.5L294.1,292.6L296.6,292.7L299.0,292.9L301.5,293.0L303.9,293.1L306.4,293.3L308.8,293.4L311.3,293.5L313.7,293.7L316.2,293.8L318.6,293.9L321.1,294.1L323.5,294.2L326.0,294.3L328.5,294.5L330.9,294.6L333.4,294.7L335.8,294.9L338.3,295.0L340.7,295.1L343.2,295.3L345.6,295.4L348.1,295.6L350.5,295.7L353.0,295.8L355.4,296.0L357.9,296.1L360.3,296.2L362.8,296.4L365.2,296.5L367.7,296.7L370.2,296.8L372.6,296.9L375.1,297.1L377.5,297.2L380.0,297.3L382.4,297.5L384.9,297.6L387.3,297.7L389.8,297.9L392.2,298.0L394.7,298.1L397.1,298.3L399.6,298.4L402.0,298.5L404.5,298.7L407.0,298.8L409.4,298.9L411.9,299.0L414.3,299.2L416.8,299.3L419.2,299.4L421.7,299.6L424.1,299.7L426.6,299.8L429.0,299.9L431.5,300.1L433.9,300.2L436.4,300.3L438.8,300.5L441.3,300.6L443.8,300.7L446.2,300.8L448.7,301.0L451.1,301.1L453.6,301.2L456.0,301.3L458.5,301.4L460.9,301.6L463.4,301.7L465.8,301.8L468.3,301.9L470.7,302.1L473.2,302.2L475.6,302.3L478.1,302.4L480.5,302.5L483.0,302.7L485.5,302.8L487.9,302.9L490.4,303.0L492.8,303.1L495.3,303.2L497.7,303.4L500.2,303.5L502.6,303.6L505.1,303.7L507.5,303.8L510.0,303.9L512.4,304.0L514.9,304.2L517.3,304.3L519.8,304.4L522.2,304.5L524.7,304.6L527.2,304.7L529.6,304.8L532.1,305.0L534.5,305.1L537.0,305.2L539.4,305.3L541.9,305.4L544.3,305.5L546.8,305.6L549.2,305.7L551.7,305.8L554.1,305.9L556.6,306.0L559.0,306.2L561.5,306.3L564.0,306.4L566.4,306.5L568.9,306.6L571.3,306.7L573.8,306.8L576.2,306.9L578.7,307.0L581.1,307.1L583.6,307.2L586.0,307.3L588.5,307.4L590.9,307.5L593.4,307.6L595.8,307.7L598.3,307.8L600.8,307.9L603.2,308.0L605.7,308.1L608.1,308.2L610.6,308.3L613.0,308.4L615.5,308.5L617.9,308.6L620.4,308.7L622.8,308.8L625.3,308.9L627.7,309.0L630.2,309.1L632.6,309.2L635.1,309.3L637.5,309.4L640.0,309.5"/><path d="M90.5,375.5L91.5,373.9L92.5,372.2L93.4,370.6L94.4,369.0L95.4,367.4L97.9,363.4L100.3,359.4L102.8,355.6L105.2,351.8L107.7,348.0L110.1,344.4L112.6,340.9L115.0,337.5L117.5,334.2L119.9,331.0L122.4,327.9L124.8,325.0L127.3,322.2L129.8,319.5L132.2,316.9L134.7,314.5L137.1,312.2L139.6,310.0L142.0,307.9L144.5,306.0L146.9,304.2L149.4,302.5L151.8,300.9L154.3,299.4L156.7,298.0L159.2,296.7L161.6,295.5L164.1,294.4L166.5,293.3L169.0,292.4L171.5,291.5L173.9,290.7L176.4,290.0L178.8,289.3L181.3,288.7L183.7,288.1L186.2,287.6L188.6,287.2L191.1,286.8L193.5,286.4L196.0,286.1L198.4,285.8L200.9,285.5L203.3,285.3L205.8,285.1L208.2,285.0L210.7,284.8L213.2,284.7L215.6,284.6L218.1,284.6L220.5,284.5L223.0,284.5L225.4,284.5L227.9,284.5L230.3,284.5L232.8,284.5L235.2,284.6L237.7,284.6L240.1,284.7L242.6,284.8L245.0,284.8L247.5,284.9L250.0,285.0L252.4,285.1L254.9,285.2L257.3,285.4L259.8,285.5L262.2,285.6L264.7,285.7L267.1,285.9L269.6,286.0L272.0,286.2L274.5,286.3L276.9,286.4L279.4,286.6L281.8,286.7L284.3,286.9L286.8,287.1L289.2,287.2L291.7,287.4L294.1,287.5L296.6,287.7L299.0,287.8L301.5,288.0L303.9,288.2L306.4,288.3L308.8,288.5L311.3,288.7L313.7,288.8L316.2,289.0L318.6,289.2L321.1,289.3L323.5,289.5L326.0,289.7L328.5,289.8L330.9,290.0L333.4,290.2L335.8,290.3L338.3,290.5L340.7,290.7L343.2,290.8L345.6,291.0L348.1,291.1L350.5,291.3L353.0,291.5L355.4,291.6L357.9,291.8L360.3,292.0L362.8,292.1L365.2,292.3L367.7,292.4L370.2,292.6L372.6,292.8L375.1,292.9L377.5,293.1L380.0,293.2L382.4,293.4L384.9,293.6L387.3,293.7L389.8,293.9L392.2,294.0L394.7,294.2L397.1,294.3L399.6,294.5L402.0,294.6L404.5,294.8L407.0,295.0L409.4,295.1L411.9,295.3L414.3,295.4L416.8,295.6L419.2,295.7L421.7,295.9L424.1,296.0L426.6,296.2L429.0,296.3L431.5,296.5L433.9,296.6L436.4,296.7L438.8,296.9L441.3,297.0L443.8,297.2L446.2,297.3L448.7,297.5L451.1,297.6L453.6,297.8L456.0,297.9L458.5,298.0L460.9,298.2L463.4,298.3L465.8,298.5L468.3,298.6L470.7,298.7L473.2,298.9L475.6,299.0L478.1,299.2L480.5,299.3L483.0,299.4L485.5,299.6L487.9,299.7L490.4,299.8L492.8,300.0L495.3,300.1L497.7,300.2L500.2,300.4L502.6,300.5L505.1,300.6L507.5,300.8L510.0,300.9L512.4,301.0L514.9,301.2L517.3,301.3L519.8,301.4L522.2,301.6L524.7,301.7L527.2,301.8L529.6,301.9L532.1,302.1L534.5,302.2L537.0,302.3L539.4,302.5L541.9,302.6L544.3,302.7L546.8,302.8L549.2,303.0L551.7,303.1L554.1,303.2L556.6,303.3L559.0,303.4L561.5,303.6L564.0,303.7L566.4,303.8L568.9,303.9L571.3,304.1L573.8,304.2L576.2,304.3L578.7,304.4L581.1,304.5L583.6,304.7L586.0,304.8L588.5,304.9L590.9,305.0L593.4,305.1L595.8,305.2L598.3,305.4L600.8,305.5L603.2,305.6L605.7,305.7L608.1,305.8L610.6,305.9L613.0,306.0L615.5,306.2L617.9,306.3L620.4,306.4L622.8,306.5L625.3,306.6L627.7,306.7L630.2,306.8L632.6,306.9L635.1,307.1L637.5,307.2L640.0,307.3"/><path d="M90.5,375.5L91.5,373.6L92.5,371.8L93.4,370.0L94.4,368.1L95.4,366.3L97.9,361.8L100.3,357.3L102.8,352.9L105.2,348.7L107.7,344.5L110.1,340.4L112.6,336.5L115.0,332.7L117.5,329.1L119.9,325.5L122.4,322.2L124.8,319.0L127.3,315.9L129.8,313.0L132.2,310.2L134.7,307.6L137.1,305.2L139.6,302.9L142.0,300.7L144.5,298.7L146.9,296.8L149.4,295.0L151.8,293.4L154.3,291.9L156.7,290.5L159.2,289.2L161.6,288.0L164.1,286.9L166.5,285.9L169.0,285.0L171.5,284.2L173.9,283.4L176.4,282.7L178.8,282.1L181.3,281.5L183.7,281.0L186.2,280.6L188.6,280.2L191.1,279.9L193.5,279.6L196.0,279.3L198.4,279.1L200.9,278.9L203.3,278.7L205.8,278.6L208.2,278.5L210.7,278.5L213.2,278.4L215.6,278.4L218.1,278.4L220.5,278.4L223.0,278.4L225.4,278.5L227.9,278.5L230.3,278.6L232.8,278.7L235.2,278.8L237.7,278.9L240.1,279.0L242.6,279.1L245.0,279.3L247.5,279.4L250.0,279.5L252.4,279.7L254.9,279.9L257.3,280.0L259.8,280.2L262.2,280.3L264.7,280.5L267.1,280.7L269.6,280.9L272.0,281.1L274.5,281.2L276.9,281.4L279.4,281.6L281.8,281.8L284.3,282.0L286.8,282.2L289.2,282.4L291.7,282.6L294.1,282.8L296.6,283.0L299.0,283.1L301.5,283.3L303.9,283.5L306.4,283.7L308.8,283.9L311.3,284.1L313.7,284.3L316.2,284.5L318.6,284.7L321.1,284.9L323.5,285.1L326.0,285.3L328.5,285.5L330.9,285.7L333.4,285.9L335.8,286.1L338.3,286.3L340.7,286.5L343.2,286.6L345.6,286.8L348.1,287.0L350.5,287.2L353.0,287.4L355.4,287.6L357.9,287.8L360.3,288.0L362.8,288.2L365.2,288.3L367.7,288.5L370.2,288.7L372.6,288.9L375.1,289.1L377.5,289.3L380.0,289.4L382.4,289.6L384.9,289.8L387.3,290.0L389.8,290.2L392.2,290.3L394.7,290.5L397.1,290.7L399.6,290.9L402.0,291.0L404.5,291.2L407.0,291.4L409.4,291.6L411.9,291.7L414.3,291.9L416.8,292.1L419.2,292.3L421.7,292.4L424.1,292.6L426.6,292.8L429.0,292.9L431.5,293.1L433.9,293.3L436.4,293.4L438.8,293.6L441.3,293.8L443.8,293.9L446.2,294.1L448.7,294.3L451.1,294.4L453.6,294.6L456.0,294.7L458.5,294.9L460.9,295.1L463.4,295.2L465.8,295.4L468.3,295.5L470.7,295.7L473.2,295.8L475.6,296.0L478.1,296.2L480.5,296.3L483.0,296.5L485.5,296.6L487.9,296.8L490.4,296.9L492.8,297.1L495.3,297.2L497.7,297.4L500.2,297.5L502.6,297.7L505.1,297.8L507.5,298.0L510.0,298.1L512.4,298.3L514.9,298.4L517.3,298.6L519.8,298.7L522.2,298.9L524.7,299.0L527.2,299.1L529.6,299.3L532.1,299.4L534.5,299.6L537.0,299.7L539.4,299.9L541.9,300.0L544.3,300.1L546.8,300.3L549.2,300.4L551.7,300.5L554.1,300.7L556.6,300.8L559.0,301.0L561.5,301.1L564.0,301.2L566.4,301.4L568.9,301.5L571.3,301.6L573.8,301.8L576.2,301.9L578.7,302.0L581.1,302.2L583.6,302.3L586.0,302.4L588.5,302.6L590.9,302.7L593.4,302.8L595.8,303.0L598.3,303.1L600.8,303.2L603.2,303.3L605.7,303.5L608.1,303.6L610.6,303.7L613.0,303.9L615.5,304.0L617.9,304.1L620.4,304.2L622.8,304.4L625.3,304.5L627.7,304.6L630.2,304.7L632.6,304.9L635.1,305.0L637.5,305.1L640.0,305.2"/><path d="M90.5,375.5L91.5,373.4L92.5,371.3L93.4,369.3L94.4,367.2L95.4,365.2L97.9,360.1L100.3,355.1L102.8,350.2L105.2,345.5L107.7,340.8L110.1,336.3L112.6,332.0L115.0,327.8L117.5,323.8L119.9,319.9L122.4,316.3L124.8,312.8L127.3,309.5L129.8,306.4L132.2,303.5L134.7,300.7L137.1,298.1L139.6,295.7L142.0,293.5L144.5,291.4L146.9,289.4L149.4,287.6L151.8,286.0L154.3,284.5L156.7,283.1L159.2,281.8L161.6,280.6L164.1,279.6L166.5,278.6L169.0,277.7L171.5,277.0L173.9,276.3L176.4,275.6L178.8,275.1L181.3,274.6L183.7,274.2L186.2,273.8L188.6,273.5L191.1,273.2L193.5,273.0L196.0,272.8L198.4,272.6L200.9,272.5L203.3,272.4L205.8,272.4L208.2,272.3L210.7,272.3L213.2,272.3L215.6,272.4L218.1,272.4L220.5,272.5L223.0,272.6L225.4,272.7L227.9,272.8L230.3,273.0L232.8,273.1L235.2,273.2L237.7,273.4L240.1,273.6L242.6,273.7L245.0,273.9L247.5,274.1L250.0,274.3L252.4,274.5L254.9,274.7L257.3,274.9L259.8,275.1L262.2,275.3L264.7,275.5L267.1,275.7L269.6,276.0L272.0,276.2L274.5,276.4L276.9,276.6L279.4,276.9L281.8,277.1L284.3,277.3L286.8,277.5L289.2,277.8L291.7,278.0L294.1,278.2L296.6,278.4L299.0,278.7L301.5,278.9L303.9,279.1L306.4,279.3L308.8,279.6L311.3,279.8L313.7,280.0L316.2,280.2L318.6,280.5L321.1,280.7L323.5,280.9L326.0,281.1L328.5,281.4L330.9,281.6L333.4,281.8L335.8,282.0L338.3,282.2L340.7,282.5L343.2,282.7L345.6,282.9L348.1,283.1L350.5,283.3L353.0,283.5L355.4,283.7L357.9,284.0L360.3,284.2L362.8,284.4L365.2,284.6L367.7,284.8L370.2,285.0L372.6,285.2L375.1,285.4L377.5,285.6L380.0,285.8L382.4,286.0L384.9,286.2L387.3,286.4L389.8,286.6L392.2,286.8L394.7,287.0L397.1,287.2L399.6,287.4L402.0,287.6L404.5,287.8L407.0,288.0L409.4,288.2L411.9,288.4L414.3,288.6L416.8,288.8L419.2,289.0L421.7,289.2L424.1,289.4L426.6,289.6L429.0,289.7L431.5,289.9L433.9,290.1L436.4,290.3L438.8,290.5L441.3,290.7L443.8,290.8L446.2,291.0L448.7,291.2L451.1,291.4L453.6,291.6L456.0,291.7L458.5,291.9L460.9,292.1L463.4,292.3L465.8,292.5L468.3,292.6L470.7,292.8L473.2,293.0L475.6,293.2L478.1,293.3L480.5,293.5L483.0,293.7L485.5,293.8L487.9,294.0L490.4,294.2L492.8,294.3L495.3,294.5L497.7,294.7L500.2,294.8L502.6,295.0L505.1,295.2L507.5,295.3L510.0,295.5L512.4,295.7L514.9,295.8L517.3,296.0L519.8,296.1L522.2,296.3L524.7,296.5L527.2,296.6L529.6,296.8L532.1,296.9L534.5,297.1L537.0,297.2L539.4,297.4L541.9,297.6L544.3,297.7L546.8,297.9L549.2,298.0L551.7,298.2L554.1,298.3L556.6,298.5L559.0,298.6L561.5,298.8L564.0,298.9L566.4,299.1L568.9,299.2L571.3,299.4L573.8,299.5L576.2,299.7L578.7,299.8L581.1,300.0L583.6,300.1L586.0,300.2L588.5,300.4L590.9,300.5L593.4,300.7L595.8,300.8L598.3,301.0L600.8,301.1L603.2,301.2L605.7,301.4L608.1,301.5L610.6,301.7L613.0,301.8L615.5,301.9L617.9,302.1L620.4,302.2L622.8,302.3L625.3,302.5L627.7,302.6L630.2,302.8L632.6,302.9L635.1,303.0L637.5,303.2L640.0,303.3"/><path d="M90.5,375.5L91.5,373.2L92.5,370.8L93.4,368.5L94.4,366.2L95.4,363.9L97.9,358.3L100.3,352.7L102.8,347.3L105.2,342.0L107.7,336.9L110.1,331.9L112.6,327.2L115.0,322.6L117.5,318.2L119.9,314.0L122.4,310.1L124.8,306.4L127.3,302.8L129.8,299.5L132.2,296.4L134.7,293.5L137.1,290.8L139.6,288.3L142.0,286.0L144.5,283.9L146.9,281.9L149.4,280.1L151.8,278.5L154.3,277.0L156.7,275.6L159.2,274.3L161.6,273.2L164.1,272.2L166.5,271.3L169.0,270.5L171.5,269.8L173.9,269.2L176.4,268.6L178.8,268.1L181.3,267.7L183.7,267.4L186.2,267.1L188.6,266.8L191.1,266.6L193.5,266.5L196.0,266.4L198.4,266.3L200.9,266.2L203.3,266.2L205.8,266.2L208.2,266.3L210.7,266.3L213.2,266.4L215.6,266.5L218.1,266.7L220.5,266.8L223.0,266.9L225.4,267.1L227.9,267.3L230.3,267.5L232.8,267.7L235.2,267.9L237.7,268.1L240.1,268.3L242.6,268.5L245.0,268.7L247.5,269.0L250.0,269.2L252.4,269.5L254.9,269.7L257.3,269.9L259.8,270.2L262.2,270.4L264.7,270.7L267.1,271.0L269.6,271.2L272.0,271.5L274.5,271.7L276.9,272.0L279.4,272.2L281.8,272.5L284.3,272.8L286.8,273.0L289.2,273.3L291.7,273.5L294.1,273.8L296.6,274.1L299.0,274.3L301.5,274.6L303.9,274.8L306.4,275.1L308.8,275.4L311.3,275.6L313.7,275.9L316.2,276.1L318.6,276.4L321.1,276.6L323.5,276.9L326.0,277.1L328.5,277.4L330.9,277.6L333.4,277.9L335.8,278.1L338.3,278.4L340.7,278.6L343.2,278.8L345.6,279.1L348.1,279.3L350.5,279.6L353.0,279.8L355.4,280.0L357.9,280.3L360.3,280.5L362.8,280.7L365.2,281.0L367.7,281.2L370.2,281.4L372.6,281.7L375.1,281.9L377.5,282.1L380.0,282.4L382.4,282.6L384.9,282.8L387.3,283.0L389.8,283.3L392.2,283.5L394.7,283.7L397.1,283.9L399.6,284.1L402.0,284.3L404.5,284.6L407.0,284.8L409.4,285.0L411.9,285.2L414.3,285.4L416.8,285.6L419.2,285.8L421.7,286.1L424.1,286.3L426.6,286.5L429.0,286.7L431.5,286.9L433.9,287.1L436.4,287.3L438.8,287.5L441.3,287.7L443.8,287.9L446.2,288.1L448.7,288.3L451.1,288.5L453.6,288.7L456.0,288.9L458.5,289.1L460.9,289.3L463.4,289.5L465.8,289.7L468.3,289.9L470.7,290.0L473.2,290.2L475.6,290.4L478.1,290.6L480.5,290.8L483.0,291.0L485.5,291.2L487.9,291.4L490.4,291.5L492.8,291.7L495.3,291.9L497.7,292.1L500.2,292.3L502.6,292.5L505.1,292.6L507.5,292.8L510.0,293.0L512.4,293.2L514.9,293.3L517.3,293.5L519.8,293.7L522.2,293.9L524.7,294.0L527.2,294.2L529.6,294.4L532.1,294.6L534.5,294.7L537.0,294.9L539.4,295.1L541.9,295.2L544.3,295.4L546.8,295.6L549.2,295.7L551.7,295.9L554.1,296.1L556.6,296.2L559.0,296.4L561.5,296.6L564.0,296.7L566.4,296.9L568.9,297.0L571.3,297.2L573.8,297.4L576.2,297.5L578.7,297.7L581.1,297.8L583.6,298.0L586.0,298.2L588.5,298.3L590.9,298.5L593.4,298.6L595.8,298.8L598.3,298.9L600.8,299.1L603.2,299.2L605.7,299.4L608.1,299.5L610.6,299.7L613.0,299.8L615.5,300.0L617.9,300.1L620.4,300.3L622.8,300.4L625.3,300.6L627.7,300.7L630.2,300.9L632.6,301.0L635.1,301.2L637.5,301.3L640.0,301.4"/><path d="M90.5,375.5L91.5,372.9L92.5,370.3L93.4,367.7L94.4,365.2L95.4,362.6L97.9,356.3L100.3,350.2L102.8,344.2L105.2,338.3L107.7,332.7L110.1,327.2L112.6,322.0L115.0,317.0L117.5,312.3L119.9,307.8L122.4,303.6L124.8,299.6L127.3,295.8L129.8,292.4L132.2,289.1L134.7,286.1L137.1,283.3L139.6,280.7L142.0,278.4L144.5,276.2L146.9,274.2L149.4,272.5L151.8,270.8L154.3,269.4L156.7,268.0L159.2,266.9L161.6,265.8L164.1,264.9L166.5,264.0L169.0,263.3L171.5,262.7L173.9,262.1L176.4,261.7L178.8,261.3L181.3,260.9L183.7,260.7L186.2,260.5L188.6,260.3L191.1,260.2L193.5,260.1L196.0,260.1L198.4,260.1L200.9,260.1L203.3,260.2L205.8,260.3L208.2,260.4L210.7,260.5L213.2,260.7L215.6,260.8L218.1,261.0L220.5,261.2L223.0,261.4L225.4,261.7L227.9,261.9L230.3,262.1L232.8,262.4L235.2,262.6L237.7,262.9L240.1,263.2L242.6,263.4L245.0,263.7L247.5,264.0L250.0,264.3L252.4,264.6L254.9,264.8L257.3,265.1L259.8,265.4L262.2,265.7L264.7,266.0L267.1,266.3L269.6,266.6L272.0,266.9L274.5,267.2L276.9,267.5L279.4,267.8L281.8,268.1L284.3,268.4L286.8,268.7L289.2,269.0L291.7,269.3L294.1,269.5L296.6,269.8L299.0,270.1L301.5,270.4L303.9,270.7L306.4,271.0L308.8,271.3L311.3,271.6L313.7,271.8L316.2,272.1L318.6,272.4L321.1,272.7L323.5,273.0L326.0,273.2L328.5,273.5L330.9,273.8L333.4,274.1L335.8,274.3L338.3,274.6L340.7,274.9L343.2,275.1L345.6,275.4L348.1,275.7L350.5,275.9L353.0,276.2L355.4,276.5L357.9,276.7L360.3,277.0L362.8,277.2L365.2,277.5L367.7,277.8L370.2,278.0L372.6,278.3L375.1,278.5L377.5,278.8L380.0,279.0L382.4,279.3L384.9,279.5L387.3,279.7L389.8,280.0L392.2,280.2L394.7,280.5L397.1,280.7L399.6,281.0L402.0,281.2L404.5,281.4L407.0,281.7L409.4,281.9L411.9,282.1L414.3,282.4L416.8,282.6L419.2,282.8L421.7,283.0L424.1,283.3L426.6,283.5L429.0,283.7L431.5,284.0L433.9,284.2L436.4,284.4L438.8,284.6L441.3,284.8L443.8,285.1L446.2,285.3L448.7,285.5L451.1,285.7L453.6,285.9L456.0,286.1L458.5,286.3L460.9,286.6L463.4,286.8L465.8,287.0L468.3,287.2L470.7,287.4L473.2,287.6L475.6,287.8L478.1,288.0L480.5,288.2L483.0,288.4L485.5,288.6L487.9,288.8L490.4,289.0L492.8,289.2L495.3,289.4L497.7,289.6L500.2,289.8L502.6,290.0L505.1,290.2L507.5,290.4L510.0,290.6L512.4,290.8L514.9,291.0L517.3,291.2L519.8,291.3L522.2,291.5L524.7,291.7L527.2,291.9L529.6,292.1L532.1,292.3L534.5,292.5L537.0,292.6L539.4,292.8L541.9,293.0L544.3,293.2L546.8,293.4L549.2,293.6L551.7,293.7L554.1,293.9L556.6,294.1L559.0,294.3L561.5,294.4L564.0,294.6L566.4,294.8L568.9,295.0L571.3,295.1L573.8,295.3L576.2,295.5L578.7,295.6L581.1,295.8L583.6,296.0L586.0,296.2L588.5,296.3L590.9,296.5L593.4,296.7L595.8,296.8L598.3,297.0L600.8,297.1L603.2,297.3L605.7,297.5L608.1,297.6L610.6,297.8L613.0,298.0L615.5,298.1L617.9,298.3L620.4,298.4L622.8,298.6L625.3,298.8L627.7,298.9L630.2,299.1L632.6,299.2L635.1,299.4L637.5,299.5L640.0,299.7"/><path d="M90.5,375.5L91.5,372.6L92.5,369.7L93.4,366.9L94.4,364.0L95.4,361.2L97.9,354.3L100.3,347.4L102.8,340.8L105.2,334.4L107.7,328.2L110.1,322.3L112.6,316.6L115.0,311.2L117.5,306.1L119.9,301.3L122.4,296.8L124.8,292.5L127.3,288.6L129.8,284.9L132.2,281.6L134.7,278.5L137.1,275.6L139.6,273.0L142.0,270.6L144.5,268.5L146.9,266.5L149.4,264.7L151.8,263.2L154.3,261.8L156.7,260.5L159.2,259.4L161.6,258.4L164.1,257.6L166.5,256.8L169.0,256.2L171.5,255.7L173.9,255.2L176.4,254.8L178.8,254.5L181.3,254.3L183.7,254.1L186.2,254.0L188.6,253.9L191.1,253.9L193.5,253.9L196.0,254.0L198.4,254.0L200.9,254.2L203.3,254.3L205.8,254.5L208.2,254.6L210.7,254.8L213.2,255.1L215.6,255.3L218.1,255.5L220.5,255.8L223.0,256.1L225.4,256.4L227.9,256.6L230.3,256.9L232.8,257.2L235.2,257.5L237.7,257.9L240.1,258.2L242.6,258.5L245.0,258.8L247.5,259.1L250.0,259.5L252.4,259.8L254.9,260.1L257.3,260.5L259.8,260.8L262.2,261.1L264.7,261.5L267.1,261.8L269.6,262.1L272.0,262.5L274.5,262.8L276.9,263.1L279.4,263.5L281.8,263.8L284.3,264.1L286.8,264.4L289.2,264.8L291.7,265.1L294.1,265.4L296.6,265.7L299.0,266.1L301.5,266.4L303.9,266.7L306.4,267.0L308.8,267.3L311.3,267.6L313.7,268.0L316.2,268.3L318.6,268.6L321.1,268.9L323.5,269.2L326.0,269.5L328.5,269.8L330.9,270.1L333.4,270.4L335.8,270.7L338.3,271.0L340.7,271.3L343.2,271.6L345.6,271.9L348.1,272.2L350.5,272.4L353.0,272.7L355.4,273.0L357.9,273.3L360.3,273.6L362.8,273.9L365.2,274.1L367.7,274.4L370.2,274.7L372.6,275.0L375.1,275.2L377.5,275.5L380.0,275.8L382.4,276.1L384.9,276.3L387.3,276.6L389.8,276.9L392.2,277.1L394.7,277.4L397.1,277.6L399.6,277.9L402.0,278.2L404.5,278.4L407.0,278.7L409.4,278.9L411.9,279.2L414.3,279.4L416.8,279.7L419.2,279.9L421.7,280.2L424.1,280.4L426.6,280.7L429.0,280.9L431.5,281.1L433.9,281.4L436.4,281.6L438.8,281.9L441.3,282.1L443.8,282.3L446.2,282.6L448.7,282.8L451.1,283.0L453.6,283.3L456.0,283.5L458.5,283.7L460.9,284.0L463.4,284.2L465.8,284.4L468.3,284.6L470.7,284.9L473.2,285.1L475.6,285.3L478.1,285.5L480.5,285.7L483.0,286.0L485.5,286.2L487.9,286.4L490.4,286.6L492.8,286.8L495.3,287.0L497.7,287.2L500.2,287.5L502.6,287.7L505.1,287.9L507.5,288.1L510.0,288.3L512.4,288.5L514.9,288.7L517.3,288.9L519.8,289.1L522.2,289.3L524.7,289.5L527.2,289.7L529.6,289.9L532.1,290.1L534.5,290.3L537.0,290.5L539.4,290.7L541.9,290.9L544.3,291.1L546.8,291.3L549.2,291.5L551.7,291.7L554.1,291.9L556.6,292.0L559.0,292.2L561.5,292.4L564.0,292.6L566.4,292.8L568.9,293.0L571.3,293.2L573.8,293.3L576.2,293.5L578.7,293.7L581.1,293.9L583.6,294.1L586.0,294.3L588.5,294.4L590.9,294.6L593.4,294.8L595.8,295.0L598.3,295.1L600.8,295.3L603.2,295.5L605.7,295.7L608.1,295.8L610.6,296.0L613.0,296.2L615.5,296.3L617.9,296.5L620.4,296.7L622.8,296.9L625.3,297.0L627.7,297.2L630.2,297.4L632.6,297.5L635.1,297.7L637.5,297.8L640.0,298.0"/><path d="M90.5,375.5L91.5,372.3L92.5,369.1L93.4,366.0L94.4,362.8L95.4,359.7L97.9,352.0L100.3,344.5L102.8,337.3L105.2,330.2L107.7,323.5L110.1,317.0L112.6,310.9L115.0,305.1L117.5,299.6L119.9,294.5L122.4,289.7L124.8,285.3L127.3,281.1L129.8,277.4L132.2,273.9L134.7,270.7L137.1,267.8L139.6,265.2L142.0,262.8L144.5,260.6L146.9,258.7L149.4,257.0L151.8,255.5L154.3,254.2L156.7,253.0L159.2,252.0L161.6,251.1L164.1,250.4L166.5,249.7L169.0,249.2L171.5,248.7L173.9,248.4L176.4,248.1L178.8,247.9L181.3,247.8L183.7,247.7L186.2,247.7L188.6,247.7L191.1,247.8L193.5,247.9L196.0,248.0L198.4,248.2L200.9,248.4L203.3,248.6L205.8,248.8L208.2,249.1L210.7,249.3L213.2,249.6L215.6,249.9L218.1,250.2L220.5,250.5L223.0,250.9L225.4,251.2L227.9,251.6L230.3,251.9L232.8,252.3L235.2,252.6L237.7,253.0L240.1,253.4L242.6,253.7L245.0,254.1L247.5,254.5L250.0,254.8L252.4,255.2L254.9,255.6L257.3,255.9L259.8,256.3L262.2,256.7L264.7,257.1L267.1,257.4L269.6,257.8L272.0,258.2L274.5,258.5L276.9,258.9L279.4,259.3L281.8,259.6L284.3,260.0L286.8,260.4L289.2,260.7L291.7,261.1L294.1,261.4L296.6,261.8L299.0,262.1L301.5,262.5L303.9,262.8L306.4,263.2L308.8,263.5L311.3,263.9L313.7,264.2L316.2,264.5L318.6,264.9L321.1,265.2L323.5,265.5L326.0,265.9L328.5,266.2L330.9,266.5L333.4,266.9L335.8,267.2L338.3,267.5L340.7,267.8L343.2,268.1L345.6,268.5L348.1,268.8L350.5,269.1L353.0,269.4L355.4,269.7L357.9,270.0L360.3,270.3L362.8,270.6L365.2,270.9L367.7,271.2L370.2,271.5L372.6,271.8L375.1,272.1L377.5,272.4L380.0,272.7L382.4,273.0L384.9,273.3L387.3,273.6L389.8,273.8L392.2,274.1L394.7,274.4L397.1,274.7L399.6,275.0L402.0,275.3L404.5,275.5L407.0,275.8L409.4,276.1L411.9,276.3L414.3,276.6L416.8,276.9L419.2,277.2L421.7,277.4L424.1,277.7L426.6,277.9L429.0,278.2L431.5,278.5L433.9,278.7L436.4,279.0L438.8,279.2L441.3,279.5L443.8,279.7L446.2,280.0L448.7,280.3L451.1,280.5L453.6,280.7L456.0,281.0L458.5,281.2L460.9,281.5L463.4,281.7L465.8,282.0L468.3,282.2L470.7,282.4L473.2,282.7L475.6,282.9L478.1,283.2L480.5,283.4L483.0,283.6L485.5,283.9L487.9,284.1L490.4,284.3L492.8,284.5L495.3,284.8L497.7,285.0L500.2,285.2L502.6,285.4L505.1,285.7L507.5,285.9L510.0,286.1L512.4,286.3L514.9,286.6L517.3,286.8L519.8,287.0L522.2,287.2L524.7,287.4L527.2,287.6L529.6,287.8L532.1,288.1L534.5,288.3L537.0,288.5L539.4,288.7L541.9,288.9L544.3,289.1L546.8,289.3L549.2,289.5L551.7,289.7L554.1,289.9L556.6,290.1L559.0,290.3L561.5,290.5L564.0,290.7L566.4,290.9L568.9,291.1L571.3,291.3L573.8,291.5L576.2,291.7L578.7,291.9L581.1,292.1L583.6,292.3L586.0,292.5L588.5,292.6L590.9,292.8L593.4,293.0L595.8,293.2L598.3,293.4L600.8,293.6L603.2,293.8L605.7,293.9L608.1,294.1L610.6,294.3L613.0,294.5L615.5,294.7L617.9,294.9L620.4,295.0L622.8,295.2L625.3,295.4L627.7,295.6L630.2,295.7L632.6,295.9L635.1,296.1L637.5,296.3L640.0,296.4"/><path d="M90.5,375.5L91.5,372.0L92.5,368.5L93.4,365.0L94.4,361.6L95.4,358.1L97.9,349.7L100.3,341.5L102.8,333.5L105.2,325.9L107.7,318.6L110.1,311.6L112.6,305.0L115.0,298.8L117.5,292.9L119.9,287.5L122.4,282.5L124.8,277.8L127.3,273.5L129.8,269.6L132.2,266.1L134.7,262.8L137.1,259.9L139.6,257.3L142.0,254.9L144.5,252.8L146.9,251.0L149.4,249.4L151.8,247.9L154.3,246.7L156.7,245.6L159.2,244.7L161.6,243.9L164.1,243.3L166.5,242.7L169.0,242.3L171.5,242.0L173.9,241.8L176.4,241.6L178.8,241.5L181.3,241.4L183.7,241.5L186.2,241.5L188.6,241.6L191.1,241.8L193.5,242.0L196.0,242.2L198.4,242.4L200.9,242.7L203.3,243.0L205.8,243.3L208.2,243.6L210.7,244.0L213.2,244.3L215.6,244.7L218.1,245.1L220.5,245.5L223.0,245.8L225.4,246.2L227.9,246.6L230.3,247.0L232.8,247.4L235.2,247.9L237.7,248.3L240.1,248.7L242.6,249.1L245.0,249.5L247.5,249.9L250.0,250.3L252.4,250.8L254.9,251.2L257.3,251.6L259.8,252.0L262.2,252.4L264.7,252.8L267.1,253.2L269.6,253.6L272.0,254.0L274.5,254.4L276.9,254.8L279.4,255.2L281.8,255.6L284.3,256.0L286.8,256.4L289.2,256.8L291.7,257.2L294.1,257.6L296.6,258.0L299.0,258.3L301.5,258.7L303.9,259.1L306.4,259.5L308.8,259.9L311.3,260.2L313.7,260.6L316.2,261.0L318.6,261.3L321.1,261.7L323.5,262.0L326.0,262.4L328.5,262.8L330.9,263.1L333.4,263.5L335.8,263.8L338.3,264.2L340.7,264.5L343.2,264.8L345.6,265.2L348.1,265.5L350.5,265.9L353.0,266.2L355.4,266.5L357.9,266.9L360.3,267.2L362.8,267.5L365.2,267.8L367.7,268.2L370.2,268.5L372.6,268.8L375.1,269.1L377.5,269.4L380.0,269.7L382.4,270.1L384.9,270.4L387.3,270.7L389.8,271.0L392.2,271.3L394.7,271.6L397.1,271.9L399.6,272.2L402.0,272.5L404.5,272.8L407.0,273.1L409.4,273.4L411.9,273.7L414.3,273.9L416.8,274.2L419.2,274.5L421.7,274.8L424.1,275.1L426.6,275.4L429.0,275.6L431.5,275.9L433.9,276.2L436.4,276.5L438.8,276.8L441.3,277.0L443.8,277.3L446.2,277.6L448.7,277.8L451.1,278.1L453.6,278.4L456.0,278.6L458.5,278.9L460.9,279.1L463.4,279.4L465.8,279.7L468.3,279.9L470.7,280.2L473.2,280.4L475.6,280.7L478.1,280.9L480.5,281.2L483.0,281.4L485.5,281.7L487.9,281.9L490.4,282.2L492.8,282.4L495.3,282.6L497.7,282.9L500.2,283.1L502.6,283.4L505.1,283.6L507.5,283.8L510.0,284.1L512.4,284.3L514.9,284.5L517.3,284.8L519.8,285.0L522.2,285.2L524.7,285.4L527.2,285.7L529.6,285.9L532.1,286.1L534.5,286.3L537.0,286.6L539.4,286.8L541.9,287.0L544.3,287.2L546.8,287.4L549.2,287.7L551.7,287.9L554.1,288.1L556.6,288.3L559.0,288.5L561.5,288.7L564.0,288.9L566.4,289.1L568.9,289.3L571.3,289.6L573.8,289.8L576.2,290.0L578.7,290.2L581.1,290.4L583.6,290.6L586.0,290.8L588.5,291.0L590.9,291.2L593.4,291.4L595.8,291.6L598.3,291.8L600.8,292.0L603.2,292.2L605.7,292.3L608.1,292.5L610.6,292.7L613.0,292.9L615.5,293.1L617.9,293.3L620.4,293.5L622.8,293.7L625.3,293.9L627.7,294.1L630.2,294.2L632.6,294.4L635.1,294.6L637.5,294.8L640.0,295.0"/><path d="M90.5,375.5L91.5,371.7L92.5,367.8L93.4,364.0L94.4,360.2L95.4,356.5L97.9,347.3L100.3,338.3L102.8,329.6L105.2,321.3L107.7,313.4L110.1,305.9L112.6,298.9L115.0,292.2L117.5,286.1L119.9,280.3L122.4,275.1L124.8,270.2L127.3,265.8L129.8,261.8L132.2,258.2L134.7,254.9L137.1,252.0L139.6,249.4L142.0,247.1L144.5,245.1L146.9,243.3L149.4,241.8L151.8,240.4L154.3,239.3L156.7,238.4L159.2,237.5L161.6,236.9L164.1,236.4L166.5,235.9L169.0,235.6L171.5,235.4L173.9,235.3L176.4,235.2L178.8,235.2L181.3,235.3L183.7,235.4L186.2,235.6L188.6,235.8L191.1,236.0L193.5,236.3L196.0,236.6L198.4,236.9L200.9,237.3L203.3,237.6L205.8,238.0L208.2,238.4L210.7,238.8L213.2,239.2L215.6,239.7L218.1,240.1L220.5,240.5L223.0,241.0L225.4,241.4L227.9,241.9L230.3,242.3L232.8,242.8L235.2,243.2L237.7,243.7L240.1,244.2L242.6,244.6L245.0,245.1L247.5,245.5L250.0,246.0L252.4,246.5L254.9,246.9L257.3,247.4L259.8,247.8L262.2,248.3L264.7,248.7L267.1,249.2L269.6,249.6L272.0,250.0L274.5,250.5L276.9,250.9L279.4,251.3L281.8,251.8L284.3,252.2L286.8,252.6L289.2,253.1L291.7,253.5L294.1,253.9L296.6,254.3L299.0,254.7L301.5,255.1L303.9,255.5L306.4,255.9L308.8,256.3L311.3,256.7L313.7,257.1L316.2,257.5L318.6,257.9L321.1,258.3L323.5,258.7L326.0,259.1L328.5,259.5L330.9,259.8L333.4,260.2L335.8,260.6L338.3,261.0L340.7,261.3L343.2,261.7L345.6,262.1L348.1,262.4L350.5,262.8L353.0,263.2L355.4,263.5L357.9,263.9L360.3,264.2L362.8,264.6L365.2,264.9L367.7,265.3L370.2,265.6L372.6,265.9L375.1,266.3L377.5,266.6L380.0,266.9L382.4,267.3L384.9,267.6L387.3,267.9L389.8,268.3L392.2,268.6L394.7,268.9L397.1,269.2L399.6,269.6L402.0,269.9L404.5,270.2L407.0,270.5L409.4,270.8L411.9,271.1L414.3,271.4L416.8,271.7L419.2,272.0L421.7,272.3L424.1,272.6L426.6,272.9L429.0,273.2L431.5,273.5L433.9,273.8L436.4,274.1L438.8,274.4L441.3,274.7L443.8,275.0L446.2,275.3L448.7,275.5L451.1,275.8L453.6,276.1L456.0,276.4L458.5,276.7L460.9,276.9L463.4,277.2L465.8,277.5L468.3,277.8L470.7,278.0L473.2,278.3L475.6,278.6L478.1,278.8L480.5,279.1L483.0,279.4L485.5,279.6L487.9,279.9L490.4,280.1L492.8,280.4L495.3,280.6L497.7,280.9L500.2,281.2L502.6,281.4L505.1,281.7L507.5,281.9L510.0,282.1L512.4,282.4L514.9,282.6L517.3,282.9L519.8,283.1L522.2,283.4L524.7,283.6L527.2,283.8L529.6,284.1L532.1,284.3L534.5,284.6L537.0,284.8L539.4,285.0L541.9,285.2L544.3,285.5L546.8,285.7L549.2,285.9L551.7,286.2L554.1,286.4L556.6,286.6L559.0,286.8L561.5,287.1L564.0,287.3L566.4,287.5L568.9,287.7L571.3,287.9L573.8,288.2L576.2,288.4L578.7,288.6L581.1,288.8L583.6,289.0L586.0,289.2L588.5,289.4L590.9,289.6L593.4,289.8L595.8,290.1L598.3,290.3L600.8,290.5L603.2,290.7L605.7,290.9L608.1,291.1L610.6,291.3L613.0,291.5L615.5,291.7L617.9,291.9L620.4,292.1L622.8,292.3L625.3,292.5L627.7,292.7L630.2,292.9L632.6,293.0L635.1,293.2L637.5,293.4L640.0,293.6"/><path d="M90.5,375.5L91.5,371.3L92.5,367.1L93.4,363.0L94.4,358.8L95.4,354.8L97.9,344.7L100.3,335.0L102.8,325.6L105.2,316.6L107.7,308.1L110.1,300.1L112.6,292.6L115.0,285.6L117.5,279.0L119.9,273.1L122.4,267.6L124.8,262.6L127.3,258.0L129.8,254.0L132.2,250.3L134.7,247.0L137.1,244.2L139.6,241.6L142.0,239.4L144.5,237.4L146.9,235.8L149.4,234.3L151.8,233.1L154.3,232.1L156.7,231.3L159.2,230.6L161.6,230.0L164.1,229.6L166.5,229.3L169.0,229.1L171.5,229.0L173.9,229.0L176.4,229.1L178.8,229.2L181.3,229.3L183.7,229.5L186.2,229.8L188.6,230.1L191.1,230.4L193.5,230.8L196.0,231.2L198.4,231.6L200.9,232.0L203.3,232.4L205.8,232.9L208.2,233.3L210.7,233.8L213.2,234.3L215.6,234.8L218.1,235.3L220.5,235.8L223.0,236.3L225.4,236.8L227.9,237.3L230.3,237.8L232.8,238.3L235.2,238.8L237.7,239.3L240.1,239.8L242.6,240.3L245.0,240.8L247.5,241.3L250.0,241.8L252.4,242.3L254.9,242.8L257.3,243.3L259.8,243.8L262.2,244.3L264.7,244.8L267.1,245.2L269.6,245.7L272.0,246.2L274.5,246.7L276.9,247.1L279.4,247.6L281.8,248.1L284.3,248.5L286.8,249.0L289.2,249.5L291.7,249.9L294.1,250.4L296.6,250.8L299.0,251.2L301.5,251.7L303.9,252.1L306.4,252.6L308.8,253.0L311.3,253.4L313.7,253.8L316.2,254.3L318.6,254.7L321.1,255.1L323.5,255.5L326.0,255.9L328.5,256.3L330.9,256.7L333.4,257.1L335.8,257.5L338.3,257.9L340.7,258.3L343.2,258.7L345.6,259.1L348.1,259.5L350.5,259.9L353.0,260.3L355.4,260.6L357.9,261.0L360.3,261.4L362.8,261.8L365.2,262.1L367.7,262.5L370.2,262.9L372.6,263.2L375.1,263.6L377.5,263.9L380.0,264.3L382.4,264.7L384.9,265.0L387.3,265.4L389.8,265.7L392.2,266.0L394.7,266.4L397.1,266.7L399.6,267.1L402.0,267.4L404.5,267.7L407.0,268.1L409.4,268.4L411.9,268.7L414.3,269.1L416.8,269.4L419.2,269.7L421.7,270.0L424.1,270.3L426.6,270.7L429.0,271.0L431.5,271.3L433.9,271.6L436.4,271.9L438.8,272.2L441.3,272.5L443.8,272.8L446.2,273.1L448.7,273.4L451.1,273.7L453.6,274.0L456.0,274.3L458.5,274.6L460.9,274.9L463.4,275.2L465.8,275.5L468.3,275.8L470.7,276.0L473.2,276.3L475.6,276.6L478.1,276.9L480.5,277.2L483.0,277.4L485.5,277.7L487.9,278.0L490.4,278.3L492.8,278.5L495.3,278.8L497.7,279.1L500.2,279.3L502.6,279.6L505.1,279.9L507.5,280.1L510.0,280.4L512.4,280.6L514.9,280.9L517.3,281.1L519.8,281.4L522.2,281.7L524.7,281.9L527.2,282.2L529.6,282.4L532.1,282.7L534.5,282.9L537.0,283.1L539.4,283.4L541.9,283.6L544.3,283.9L546.8,284.1L549.2,284.4L551.7,284.6L554.1,284.8L556.6,285.1L559.0,285.3L561.5,285.5L564.0,285.8L566.4,286.0L568.9,286.2L571.3,286.4L573.8,286.7L576.2,286.9L578.7,287.1L581.1,287.3L583.6,287.6L586.0,287.8L588.5,288.0L590.9,288.2L593.4,288.5L595.8,288.7L598.3,288.9L600.8,289.1L603.2,289.3L605.7,289.5L608.1,289.7L610.6,289.9L613.0,290.2L615.5,290.4L617.9,290.6L620.4,290.8L622.8,291.0L625.3,291.2L627.7,291.4L630.2,291.6L632.6,291.8L635.1,292.0L637.5,292.2L640.0,292.4"/><path d="M90.5,375.5L91.5,370.9L92.5,366.4L93.4,361.9L94.4,357.4L95.4,353.0L97.9,342.1L100.3,331.6L102.8,321.5L105.2,311.8L107.7,302.7L110.1,294.2L112.6,286.2L115.0,278.8L117.5,272.0L119.9,265.7L122.4,260.0L124.8,254.9L127.3,250.3L129.8,246.2L132.2,242.5L134.7,239.2L137.1,236.4L139.6,233.9L142.0,231.8L144.5,229.9L146.9,228.4L149.4,227.0L151.8,226.0L154.3,225.1L156.7,224.3L159.2,223.8L161.6,223.4L164.1,223.1L166.5,222.9L169.0,222.8L171.5,222.8L173.9,222.9L176.4,223.1L178.8,223.3L181.3,223.6L183.7,223.9L186.2,224.2L188.6,224.6L191.1,225.0L193.5,225.5L196.0,225.9L198.4,226.4L200.9,226.9L203.3,227.4L205.8,227.9L208.2,228.5L210.7,229.0L213.2,229.5L215.6,230.1L218.1,230.6L220.5,231.2L223.0,231.7L225.4,232.3L227.9,232.9L230.3,233.4L232.8,234.0L235.2,234.5L237.7,235.1L240.1,235.6L242.6,236.2L245.0,236.7L247.5,237.3L250.0,237.8L252.4,238.3L254.9,238.9L257.3,239.4L259.8,239.9L262.2,240.5L264.7,241.0L267.1,241.5L269.6,242.0L272.0,242.5L274.5,243.0L276.9,243.5L279.4,244.0L281.8,244.5L284.3,245.0L286.8,245.5L289.2,246.0L291.7,246.5L294.1,247.0L296.6,247.5L299.0,247.9L301.5,248.4L303.9,248.9L306.4,249.3L308.8,249.8L311.3,250.3L313.7,250.7L316.2,251.2L318.6,251.6L321.1,252.0L323.5,252.5L326.0,252.9L328.5,253.4L330.9,253.8L333.4,254.2L335.8,254.6L338.3,255.1L340.7,255.5L343.2,255.9L345.6,256.3L348.1,256.7L350.5,257.1L353.0,257.5L355.4,257.9L357.9,258.3L360.3,258.7L362.8,259.1L365.2,259.5L367.7,259.9L370.2,260.3L372.6,260.7L375.1,261.1L377.5,261.5L380.0,261.8L382.4,262.2L384.9,262.6L387.3,262.9L389.8,263.3L392.2,263.7L394.7,264.0L397.1,264.4L399.6,264.8L402.0,265.1L404.5,265.5L407.0,265.8L409.4,266.2L411.9,266.5L414.3,266.9L416.8,267.2L419.2,267.5L421.7,267.9L424.1,268.2L426.6,268.5L429.0,268.9L431.5,269.2L433.9,269.5L436.4,269.9L438.8,270.2L441.3,270.5L443.8,270.8L446.2,271.1L448.7,271.4L451.1,271.8L453.6,272.1L456.0,272.4L458.5,272.7L460.9,273.0L463.4,273.3L465.8,273.6L468.3,273.9L470.7,274.2L473.2,274.5L475.6,274.8L478.1,275.1L480.5,275.4L483.0,275.7L485.5,276.0L487.9,276.2L490.4,276.5L492.8,276.8L495.3,277.1L497.7,277.4L500.2,277.7L502.6,277.9L505.1,278.2L507.5,278.5L510.0,278.8L512.4,279.0L514.9,279.3L517.3,279.6L519.8,279.8L522.2,280.1L524.7,280.4L527.2,280.6L529.6,280.9L532.1,281.1L534.5,281.4L537.0,281.7L539.4,281.9L541.9,282.2L544.3,282.4L546.8,282.7L549.2,282.9L551.7,283.2L554.1,283.4L556.6,283.7L559.0,283.9L561.5,284.2L564.0,284.4L566.4,284.6L568.9,284.9L571.3,285.1L573.8,285.3L576.2,285.6L578.7,285.8L581.1,286.0L583.6,286.3L586.0,286.5L588.5,286.7L590.9,287.0L593.4,287.2L595.8,287.4L598.3,287.6L600.8,287.9L603.2,288.1L605.7,288.3L608.1,288.5L610.6,288.8L613.0,289.0L615.5,289.2L617.9,289.4L620.4,289.6L622.8,289.8L625.3,290.0L627.7,290.3L630.2,290.5L632.6,290.7L635.1,290.9L637.5,291.1L640.0,291.3"/><path d="M90.5,375.5L91.5,370.6L92.5,365.6L93.4,360.8L94.4,355.9L95.4,351.1L97.9,339.4L100.3,328.1L102.8,317.3L105.2,307.0L107.7,297.3L110.1,288.2L112.6,279.8L115.0,272.0L117.5,264.9L119.9,258.4L122.4,252.6L124.8,247.3L127.3,242.6L129.8,238.5L132.2,234.8L134.7,231.6L137.1,228.8L139.6,226.4L142.0,224.4L144.5,222.7L146.9,221.2L149.4,220.0L151.8,219.0L154.3,218.3L156.7,217.7L159.2,217.2L161.6,217.0L164.1,216.8L166.5,216.7L169.0,216.8L171.5,216.9L173.9,217.1L176.4,217.4L178.8,217.7L181.3,218.0L183.7,218.4L186.2,218.9L188.6,219.4L191.1,219.8L193.5,220.4L196.0,220.9L198.4,221.5L200.9,222.0L203.3,222.6L205.8,223.2L208.2,223.8L210.7,224.4L213.2,225.0L215.6,225.6L218.1,226.2L220.5,226.8L223.0,227.4L225.4,228.0L227.9,228.6L230.3,229.2L232.8,229.8L235.2,230.4L237.7,231.0L240.1,231.6L242.6,232.2L245.0,232.8L247.5,233.4L250.0,234.0L252.4,234.6L254.9,235.1L257.3,235.7L259.8,236.3L262.2,236.8L264.7,237.4L267.1,238.0L269.6,238.5L272.0,239.1L274.5,239.6L276.9,240.1L279.4,240.7L281.8,241.2L284.3,241.7L286.8,242.3L289.2,242.8L291.7,243.3L294.1,243.8L296.6,244.3L299.0,244.8L301.5,245.3L303.9,245.8L306.4,246.3L308.8,246.8L311.3,247.3L313.7,247.8L316.2,248.2L318.6,248.7L321.1,249.2L323.5,249.7L326.0,250.1L328.5,250.6L330.9,251.0L333.4,251.5L335.8,251.9L338.3,252.4L340.7,252.8L343.2,253.3L345.6,253.7L348.1,254.2L350.5,254.6L353.0,255.0L355.4,255.4L357.9,255.9L360.3,256.3L362.8,256.7L365.2,257.1L367.7,257.5L370.2,257.9L372.6,258.3L375.1,258.7L377.5,259.1L380.0,259.5L382.4,259.9L384.9,260.3L387.3,260.7L389.8,261.1L392.2,261.5L394.7,261.9L397.1,262.2L399.6,262.6L402.0,263.0L404.5,263.4L407.0,263.7L409.4,264.1L411.9,264.5L414.3,264.8L416.8,265.2L419.2,265.5L421.7,265.9L424.1,266.3L426.6,266.6L429.0,267.0L431.5,267.3L433.9,267.6L436.4,268.0L438.8,268.3L441.3,268.7L443.8,269.0L446.2,269.3L448.7,269.7L451.1,270.0L453.6,270.3L456.0,270.6L458.5,271.0L460.9,271.3L463.4,271.6L465.8,271.9L468.3,272.2L470.7,272.6L473.2,272.9L475.6,273.2L478.1,273.5L480.5,273.8L483.0,274.1L485.5,274.4L487.9,274.7L490.4,275.0L492.8,275.3L495.3,275.6L497.7,275.9L500.2,276.2L502.6,276.5L505.1,276.7L507.5,277.0L510.0,277.3L512.4,277.6L514.9,277.9L517.3,278.2L519.8,278.4L522.2,278.7L524.7,279.0L527.2,279.3L529.6,279.5L532.1,279.8L534.5,280.1L537.0,280.3L539.4,280.6L541.9,280.9L544.3,281.1L546.8,281.4L549.2,281.7L551.7,281.9L554.1,282.2L556.6,282.4L559.0,282.7L561.5,282.9L564.0,283.2L566.4,283.4L568.9,283.7L571.3,283.9L573.8,284.2L576.2,284.4L578.7,284.7L581.1,284.9L583.6,285.2L586.0,285.4L588.5,285.6L590.9,285.9L593.4,286.1L595.8,286.3L598.3,286.6L600.8,286.8L603.2,287.0L605.7,287.3L608.1,287.5L610.6,287.7L613.0,287.9L615.5,288.2L617.9,288.4L620.4,288.6L622.8,288.8L625.3,289.1L627.7,289.3L630.2,289.5L632.6,289.7L635.1,289.9L637.5,290.1L640.0,290.4"/><path d="M90.5,375.5L91.5,370.2L92.5,364.9L93.4,359.7L94.4,354.5L95.4,349.4L97.9,336.9L100.3,324.8L102.8,313.3L105.2,302.4L107.7,292.1L110.1,282.6L112.6,273.8L115.0,265.7L117.5,258.3L119.9,251.6L122.4,245.6L124.8,240.3L127.3,235.5L129.8,231.4L132.2,227.7L134.7,224.5L137.1,221.8L139.6,219.5L142.0,217.5L144.5,215.9L146.9,214.5L149.4,213.5L151.8,212.6L154.3,211.9L156.7,211.5L159.2,211.2L161.6,211.0L164.1,210.9L166.5,211.0L169.0,211.1L171.5,211.3L173.9,211.6L176.4,212.0L178.8,212.4L181.3,212.9L183.7,213.3L186.2,213.9L188.6,214.4L191.1,215.0L193.5,215.6L196.0,216.2L198.4,216.8L200.9,217.5L203.3,218.1L205.8,218.7L208.2,219.4L210.7,220.1L213.2,220.7L215.6,221.4L218.1,222.0L220.5,222.7L223.0,223.4L225.4,224.0L227.9,224.7L230.3,225.3L232.8,226.0L235.2,226.6L237.7,227.3L240.1,227.9L242.6,228.6L245.0,229.2L247.5,229.8L250.0,230.4L252.4,231.1L254.9,231.7L257.3,232.3L259.8,232.9L262.2,233.5L264.7,234.1L267.1,234.7L269.6,235.3L272.0,235.9L274.5,236.4L276.9,237.0L279.4,237.6L281.8,238.1L284.3,238.7L286.8,239.3L289.2,239.8L291.7,240.4L294.1,240.9L296.6,241.4L299.0,242.0L301.5,242.5L303.9,243.0L306.4,243.6L308.8,244.1L311.3,244.6L313.7,245.1L316.2,245.6L318.6,246.1L321.1,246.6L323.5,247.1L326.0,247.6L328.5,248.1L330.9,248.6L333.4,249.0L335.8,249.5L338.3,250.0L340.7,250.5L343.2,250.9L345.6,251.4L348.1,251.8L350.5,252.3L353.0,252.7L355.4,253.2L357.9,253.6L360.3,254.1L362.8,254.5L365.2,255.0L367.7,255.4L370.2,255.8L372.6,256.3L375.1,256.7L377.5,257.1L380.0,257.5L382.4,257.9L384.9,258.3L387.3,258.7L389.8,259.2L392.2,259.6L394.7,260.0L397.1,260.4L399.6,260.8L402.0,261.1L404.5,261.5L407.0,261.9L409.4,262.3L411.9,262.7L414.3,263.1L416.8,263.4L419.2,263.8L421.7,264.2L424.1,264.6L426.6,264.9L429.0,265.3L431.5,265.6L433.9,266.0L436.4,266.4L438.8,266.7L441.3,267.1L443.8,267.4L446.2,267.8L448.7,268.1L451.1,268.5L453.6,268.8L456.0,269.1L458.5,269.5L460.9,269.8L463.4,270.1L465.8,270.5L468.3,270.8L470.7,271.1L473.2,271.5L475.6,271.8L478.1,272.1L480.5,272.4L483.0,272.7L485.5,273.1L487.9,273.4L490.4,273.7L492.8,274.0L495.3,274.3L497.7,274.6L500.2,274.9L502.6,275.2L505.1,275.5L507.5,275.8L510.0,276.1L512.4,276.4L514.9,276.7L517.3,277.0L519.8,277.3L522.2,277.6L524.7,277.8L527.2,278.1L529.6,278.4L532.1,278.7L534.5,279.0L537.0,279.2L539.4,279.5L541.9,279.8L544.3,280.1L546.8,280.3L549.2,280.6L551.7,280.9L554.1,281.1L556.6,281.4L559.0,281.7L561.5,281.9L564.0,282.2L566.4,282.5L568.9,282.7L571.3,283.0L573.8,283.2L576.2,283.5L578.7,283.7L581.1,284.0L583.6,284.2L586.0,284.5L588.5,284.7L590.9,285.0L593.4,285.2L595.8,285.5L598.3,285.7L600.8,285.9L603.2,286.2L605.7,286.4L608.1,286.7L610.6,286.9L613.0,287.1L615.5,287.4L617.9,287.6L620.4,287.8L622.8,288.1L625.3,288.3L627.7,288.5L630.2,288.7L632.6,289.0L635.1,289.2L637.5,289.4L640.0,289.6"/><path d="M90.5,375.5L91.5,370.1L92.5,364.7L93.4,359.3L94.4,354.0L95.4,348.8L97.9,335.9L100.3,323.6L102.8,311.8L105.2,300.6L107.7,290.1L110.1,280.3L112.6,271.2L115.0,262.9L117.5,255.3L119.9,248.5L122.4,242.3L124.8,236.8L127.3,231.9L129.8,227.6L132.2,223.8L134.7,220.5L137.1,217.7L139.6,215.3L142.0,213.2L144.5,211.6L146.9,210.2L149.4,209.0L151.8,208.1L154.3,207.5L156.7,207.0L159.2,206.7L161.6,206.5L164.1,206.4L166.5,206.5L169.0,206.7L171.5,206.9L173.9,207.2L176.4,207.6L178.8,208.0L181.3,208.5L183.7,209.1L186.2,209.6L188.6,210.2L191.1,210.8L193.5,211.5L196.0,212.1L198.4,212.8L200.9,213.4L203.3,214.1L205.8,214.8L208.2,215.5L210.7,216.2L213.2,216.9L215.6,217.6L218.1,218.3L220.5,219.0L223.0,219.7L225.4,220.4L227.9,221.1L230.3,221.8L232.8,222.5L235.2,223.2L237.7,223.9L240.1,224.6L242.6,225.3L245.0,225.9L247.5,226.6L250.0,227.3L252.4,227.9L254.9,228.6L257.3,229.2L259.8,229.9L262.2,230.5L264.7,231.1L267.1,231.8L269.6,232.4L272.0,233.0L274.5,233.6L276.9,234.2L279.4,234.8L281.8,235.4L284.3,236.0L286.8,236.6L289.2,237.2L291.7,237.8L294.1,238.3L296.6,238.9L299.0,239.5L301.5,240.0L303.9,240.6L306.4,241.1L308.8,241.7L311.3,242.2L313.7,242.8L316.2,243.3L318.6,243.8L321.1,244.4L323.5,244.9L326.0,245.4L328.5,245.9L330.9,246.4L333.4,246.9L335.8,247.4L338.3,247.9L340.7,248.4L343.2,248.9L345.6,249.4L348.1,249.9L350.5,250.3L353.0,250.8L355.4,251.3L357.9,251.8L360.3,252.2L362.8,252.7L365.2,253.1L367.7,253.6L370.2,254.0L372.6,254.5L375.1,254.9L377.5,255.4L380.0,255.8L382.4,256.2L384.9,256.7L387.3,257.1L389.8,257.5L392.2,258.0L394.7,258.4L397.1,258.8L399.6,259.2L402.0,259.6L404.5,260.0L407.0,260.4L409.4,260.8L411.9,261.2L414.3,261.6L416.8,262.0L419.2,262.4L421.7,262.8L424.1,263.2L426.6,263.6L429.0,263.9L431.5,264.3L433.9,264.7L436.4,265.1L438.8,265.4L441.3,265.8L443.8,266.2L446.2,266.5L448.7,266.9L451.1,267.2L453.6,267.6L456.0,267.9L458.5,268.3L460.9,268.6L463.4,269.0L465.8,269.3L468.3,269.7L470.7,270.0L473.2,270.4L475.6,270.7L478.1,271.0L480.5,271.4L483.0,271.7L485.5,272.0L487.9,272.3L490.4,272.7L492.8,273.0L495.3,273.3L497.7,273.6L500.2,273.9L502.6,274.2L505.1,274.6L507.5,274.9L510.0,275.2L512.4,275.5L514.9,275.8L517.3,276.1L519.8,276.4L522.2,276.7L524.7,277.0L527.2,277.3L529.6,277.6L532.1,277.9L534.5,278.1L537.0,278.4L539.4,278.7L541.9,279.0L544.3,279.3L546.8,279.6L549.2,279.8L551.7,280.1L554.1,280.4L556.6,280.7L559.0,280.9L561.5,281.2L564.0,281.5L566.4,281.7L568.9,282.0L571.3,282.3L573.8,282.5L576.2,282.8L578.7,283.1L581.1,283.3L583.6,283.6L586.0,283.8L588.5,284.1L590.9,284.3L593.4,284.6L595.8,284.9L598.3,285.1L600.8,285.3L603.2,285.6L605.7,285.8L608.1,286.1L610.6,286.3L613.0,286.6L615.5,286.8L617.9,287.0L620.4,287.3L622.8,287.5L625.3,287.8L627.7,288.0L630.2,288.2L632.6,288.5L635.1,288.7L637.5,288.9L640.0,289.1"/><path d="M90.5,375.5L91.5,370.1L92.5,364.7L93.4,359.3L94.4,354.0L95.4,348.8L97.9,335.9L100.3,323.6L102.8,311.7L105.2,300.5L107.7,289.9L110.1,280.0L112.6,270.9L115.0,262.4L117.5,254.7L119.9,247.6L122.4,241.3L124.8,235.6L127.3,230.5L129.8,226.0L132.2,222.0L134.7,218.5L137.1,215.5L139.6,213.0L142.0,210.8L144.5,208.9L146.9,207.4L149.4,206.1L151.8,205.1L154.3,204.4L156.7,203.8L159.2,203.4L161.6,203.2L164.1,203.1L166.5,203.1L169.0,203.2L171.5,203.4L173.9,203.7L176.4,204.1L178.8,204.5L181.3,205.0L183.7,205.5L186.2,206.1L188.6,206.7L191.1,207.3L193.5,208.0L196.0,208.6L198.4,209.3L200.9,210.0L203.3,210.7L205.8,211.5L208.2,212.2L210.7,212.9L213.2,213.7L215.6,214.4L218.1,215.1L220.5,215.9L223.0,216.6L225.4,217.4L227.9,218.1L230.3,218.8L232.8,219.6L235.2,220.3L237.7,221.0L240.1,221.7L242.6,222.4L245.0,223.1L247.5,223.9L250.0,224.6L252.4,225.2L254.9,225.9L257.3,226.6L259.8,227.3L262.2,228.0L264.7,228.6L267.1,229.3L269.6,230.0L272.0,230.6L274.5,231.2L276.9,231.9L279.4,232.5L281.8,233.2L284.3,233.8L286.8,234.4L289.2,235.0L291.7,235.6L294.1,236.2L296.6,236.8L299.0,237.4L301.5,238.0L303.9,238.6L306.4,239.2L308.8,239.7L311.3,240.3L313.7,240.9L316.2,241.4L318.6,242.0L321.1,242.5L323.5,243.1L326.0,243.6L328.5,244.2L330.9,244.7L333.4,245.2L335.8,245.7L338.3,246.3L340.7,246.8L343.2,247.3L345.6,247.8L348.1,248.3L350.5,248.8L353.0,249.3L355.4,249.8L357.9,250.3L360.3,250.8L362.8,251.2L365.2,251.7L367.7,252.2L370.2,252.7L372.6,253.1L375.1,253.6L377.5,254.1L380.0,254.5L382.4,255.0L384.9,255.4L387.3,255.9L389.8,256.3L392.2,256.7L394.7,257.2L397.1,257.6L399.6,258.0L402.0,258.5L404.5,258.9L407.0,259.3L409.4,259.7L411.9,260.1L414.3,260.5L416.8,261.0L419.2,261.4L421.7,261.8L424.1,262.2L426.6,262.6L429.0,263.0L431.5,263.3L433.9,263.7L436.4,264.1L438.8,264.5L441.3,264.9L443.8,265.3L446.2,265.6L448.7,266.0L451.1,266.4L453.6,266.8L456.0,267.1L458.5,267.5L460.9,267.8L463.4,268.2L465.8,268.6L468.3,268.9L470.7,269.3L473.2,269.6L475.6,270.0L478.1,270.3L480.5,270.6L483.0,271.0L485.5,271.3L487.9,271.7L490.4,272.0L492.8,272.3L495.3,272.7L497.7,273.0L500.2,273.3L502.6,273.6L505.1,273.9L507.5,274.3L510.0,274.6L512.4,274.9L514.9,275.2L517.3,275.5L519.8,275.8L522.2,276.1L524.7,276.4L527.2,276.7L529.6,277.0L532.1,277.3L534.5,277.6L537.0,277.9L539.4,278.2L541.9,278.5L544.3,278.8L546.8,279.1L549.2,279.4L551.7,279.7L554.1,280.0L556.6,280.2L559.0,280.5L561.5,280.8L564.0,281.1L566.4,281.4L568.9,281.6L571.3,281.9L573.8,282.2L576.2,282.4L578.7,282.7L581.1,283.0L583.6,283.2L586.0,283.5L588.5,283.8L590.9,284.0L593.4,284.3L595.8,284.5L598.3,284.8L600.8,285.1L603.2,285.3L605.7,285.6L608.1,285.8L610.6,286.1L613.0,286.3L615.5,286.6L617.9,286.8L620.4,287.0L622.8,287.3L625.3,287.5L627.7,287.8L630.2,288.0L632.6,288.2L635.1,288.5L637.5,288.7L640.0,288.9"/><path d="M90.5,375.5L91.5,370.1L92.5,364.7L93.4,359.3L94.4,354.0L95.4,348.8L97.9,336.0L100.3,323.6L102.8,311.7L105.2,300.5L107.7,289.8L110.1,279.9L112.6,270.6L115.0,262.0L117.5,254.1L119.9,247.0L122.4,240.4L124.8,234.6L127.3,229.3L129.8,224.6L132.2,220.5L134.7,216.9L137.1,213.7L139.6,211.0L142.0,208.6L144.5,206.7L146.9,205.0L149.4,203.6L151.8,202.5L154.3,201.7L156.7,201.0L159.2,200.5L161.6,200.2L164.1,200.1L166.5,200.1L169.0,200.1L171.5,200.3L173.9,200.6L176.4,201.0L178.8,201.4L181.3,201.9L183.7,202.4L186.2,203.0L188.6,203.6L191.1,204.2L193.5,204.9L196.0,205.6L198.4,206.3L200.9,207.0L203.3,207.7L205.8,208.5L208.2,209.3L210.7,210.0L213.2,210.8L215.6,211.6L218.1,212.3L220.5,213.1L223.0,213.9L225.4,214.7L227.9,215.4L230.3,216.2L232.8,217.0L235.2,217.7L237.7,218.5L240.1,219.2L242.6,220.0L245.0,220.7L247.5,221.5L250.0,222.2L252.4,222.9L254.9,223.7L257.3,224.4L259.8,225.1L262.2,225.8L264.7,226.5L267.1,227.2L269.6,227.9L272.0,228.6L274.5,229.2L276.9,229.9L279.4,230.6L281.8,231.2L284.3,231.9L286.8,232.5L289.2,233.2L291.7,233.8L294.1,234.5L296.6,235.1L299.0,235.7L301.5,236.3L303.9,236.9L306.4,237.5L308.8,238.1L311.3,238.7L313.7,239.3L316.2,239.9L318.6,240.5L321.1,241.1L323.5,241.6L326.0,242.2L328.5,242.8L330.9,243.3L333.4,243.9L335.8,244.4L338.3,245.0L340.7,245.5L343.2,246.0L345.6,246.6L348.1,247.1L350.5,247.6L353.0,248.1L355.4,248.6L357.9,249.1L360.3,249.6L362.8,250.1L365.2,250.6L367.7,251.1L370.2,251.6L372.6,252.1L375.1,252.6L377.5,253.1L380.0,253.5L382.4,254.0L384.9,254.5L387.3,254.9L389.8,255.4L392.2,255.9L394.7,256.3L397.1,256.8L399.6,257.2L402.0,257.6L404.5,258.1L407.0,258.5L409.4,258.9L411.9,259.4L414.3,259.8L416.8,260.2L419.2,260.6L421.7,261.1L424.1,261.5L426.6,261.9L429.0,262.3L431.5,262.7L433.9,263.1L436.4,263.5L438.8,263.9L441.3,264.3L443.8,264.7L446.2,265.1L448.7,265.5L451.1,265.8L453.6,266.2L456.0,266.6L458.5,267.0L460.9,267.3L463.4,267.7L465.8,268.1L468.3,268.4L470.7,268.8L473.2,269.2L475.6,269.5L478.1,269.9L480.5,270.2L483.0,270.6L485.5,270.9L487.9,271.3L490.4,271.6L492.8,272.0L495.3,272.3L497.7,272.6L500.2,273.0L502.6,273.3L505.1,273.6L507.5,274.0L510.0,274.3L512.4,274.6L514.9,274.9L517.3,275.2L519.8,275.6L522.2,275.9L524.7,276.2L527.2,276.5L529.6,276.8L532.1,277.1L534.5,277.4L537.0,277.7L539.4,278.0L541.9,278.3L544.3,278.6L546.8,278.9L549.2,279.2L551.7,279.5L554.1,279.8L556.6,280.1L559.0,280.4L561.5,280.7L564.0,281.0L566.4,281.2L568.9,281.5L571.3,281.8L573.8,282.1L576.2,282.4L578.7,282.6L581.1,282.9L583.6,283.2L586.0,283.4L588.5,283.7L590.9,284.0L593.4,284.2L595.8,284.5L598.3,284.8L600.8,285.0L603.2,285.3L605.7,285.5L608.1,285.8L610.6,286.0L613.0,286.3L615.5,286.6L617.9,286.8L620.4,287.1L622.8,287.3L625.3,287.5L627.7,287.8L630.2,288.0L632.6,288.3L635.1,288.5L637.5,288.8L640.0,289.0"/><path d="M90.5,375.5L91.5,370.1L92.5,364.7L93.4,359.3L94.4,354.0L95.4,348.8L97.9,336.0L100.3,323.6L102.8,311.7L105.2,300.4L107.7,289.7L110.1,279.7L112.6,270.3L115.0,261.6L117.5,253.6L119.9,246.3L122.4,239.6L124.8,233.6L127.3,228.1L129.8,223.3L132.2,219.0L134.7,215.2L137.1,211.8L139.6,208.9L142.0,206.4L144.5,204.3L146.9,202.5L149.4,201.0L151.8,199.8L154.3,198.8L156.7,198.0L159.2,197.5L161.6,197.1L164.1,196.9L166.5,196.8L169.0,196.8L171.5,197.0L173.9,197.2L176.4,197.6L178.8,198.0L181.3,198.4L183.7,199.0L186.2,199.5L188.6,200.2L191.1,200.8L193.5,201.5L196.0,202.2L198.4,202.9L200.9,203.7L203.3,204.4L205.8,205.2L208.2,206.0L210.7,206.8L213.2,207.6L215.6,208.4L218.1,209.2L220.5,210.0L223.0,210.8L225.4,211.7L227.9,212.5L230.3,213.3L232.8,214.1L235.2,214.9L237.7,215.7L240.1,216.5L242.6,217.3L245.0,218.0L247.5,218.8L250.0,219.6L252.4,220.3L254.9,221.1L257.3,221.9L259.8,222.6L262.2,223.4L264.7,224.1L267.1,224.8L269.6,225.5L272.0,226.3L274.5,227.0L276.9,227.7L279.4,228.4L281.8,229.1L284.3,229.8L286.8,230.4L289.2,231.1L291.7,231.8L294.1,232.4L296.6,233.1L299.0,233.8L301.5,234.4L303.9,235.0L306.4,235.7L308.8,236.3L311.3,236.9L313.7,237.5L316.2,238.1L318.6,238.8L321.1,239.4L323.5,240.0L326.0,240.5L328.5,241.1L330.9,241.7L333.4,242.3L335.8,242.9L338.3,243.4L340.7,244.0L343.2,244.5L345.6,245.1L348.1,245.6L350.5,246.2L353.0,246.7L355.4,247.3L357.9,247.8L360.3,248.3L362.8,248.8L365.2,249.3L367.7,249.9L370.2,250.4L372.6,250.9L375.1,251.4L377.5,251.9L380.0,252.4L382.4,252.9L384.9,253.3L387.3,253.8L389.8,254.3L392.2,254.8L394.7,255.2L397.1,255.7L399.6,256.2L402.0,256.6L404.5,257.1L407.0,257.5L409.4,258.0L411.9,258.4L414.3,258.9L416.8,259.3L419.2,259.7L421.7,260.2L424.1,260.6L426.6,261.0L429.0,261.4L431.5,261.9L433.9,262.3L436.4,262.7L438.8,263.1L441.3,263.5L443.8,263.9L446.2,264.3L448.7,264.7L451.1,265.1L453.6,265.5L456.0,265.9L458.5,266.3L460.9,266.7L463.4,267.0L465.8,267.4L468.3,267.8L470.7,268.2L473.2,268.5L475.6,268.9L478.1,269.3L480.5,269.6L483.0,270.0L485.5,270.4L487.9,270.7L490.4,271.1L492.8,271.4L495.3,271.8L497.7,272.1L500.2,272.5L502.6,272.8L505.1,273.1L507.5,273.5L510.0,273.8L512.4,274.2L514.9,274.5L517.3,274.8L519.8,275.1L522.2,275.5L524.7,275.8L527.2,276.1L529.6,276.4L532.1,276.7L534.5,277.1L537.0,277.4L539.4,277.7L541.9,278.0L544.3,278.3L546.8,278.6L549.2,278.9L551.7,279.2L554.1,279.5L556.6,279.8L559.0,280.1L561.5,280.4L564.0,280.7L566.4,281.0L568.9,281.3L571.3,281.5L573.8,281.8L576.2,282.1L578.7,282.4L581.1,282.7L583.6,282.9L586.0,283.2L588.5,283.5L590.9,283.8L593.4,284.0L595.8,284.3L598.3,284.6L600.8,284.8L603.2,285.1L605.7,285.4L608.1,285.6L610.6,285.9L613.0,286.2L615.5,286.4L617.9,286.7L620.4,286.9L622.8,287.2L625.3,287.4L627.7,287.7L630.2,287.9L632.6,288.2L635.1,288.4L637.5,288.7L640.0,288.9"/><path d="M90.5,375.5L91.5,370.1L92.5,364.7L93.4,359.3L94.4,354.1L95.4,348.8L97.9,336.0L100.3,323.6L102.8,311.7L105.2,300.4L107.7,289.6L110.1,279.5L112.6,270.0L115.0,261.2L117.5,253.0L119.9,245.5L122.4,238.6L124.8,232.4L127.3,226.7L129.8,221.6L132.2,217.1L134.7,213.1L137.1,209.5L139.6,206.4L142.0,203.7L144.5,201.4L146.9,199.4L149.4,197.7L151.8,196.3L154.3,195.2L156.7,194.3L159.2,193.6L161.6,193.2L164.1,192.8L166.5,192.7L169.0,192.6L171.5,192.7L173.9,192.9L176.4,193.2L178.8,193.6L181.3,194.0L183.7,194.5L186.2,195.1L188.6,195.7L191.1,196.3L193.5,197.0L196.0,197.7L198.4,198.5L200.9,199.3L203.3,200.0L205.8,200.8L208.2,201.7L210.7,202.5L213.2,203.3L215.6,204.2L218.1,205.0L220.5,205.9L223.0,206.7L225.4,207.6L227.9,208.4L230.3,209.3L232.8,210.1L235.2,210.9L237.7,211.8L240.1,212.6L242.6,213.4L245.0,214.3L247.5,215.1L250.0,215.9L252.4,216.7L254.9,217.5L257.3,218.3L259.8,219.1L262.2,219.9L264.7,220.7L267.1,221.4L269.6,222.2L272.0,222.9L274.5,223.7L276.9,224.4L279.4,225.2L281.8,225.9L284.3,226.6L286.8,227.4L289.2,228.1L291.7,228.8L294.1,229.5L296.6,230.2L299.0,230.8L301.5,231.5L303.9,232.2L306.4,232.9L308.8,233.5L311.3,234.2L313.7,234.8L316.2,235.5L318.6,236.1L321.1,236.8L323.5,237.4L326.0,238.0L328.5,238.6L330.9,239.2L333.4,239.8L335.8,240.4L338.3,241.0L340.7,241.6L343.2,242.2L345.6,242.8L348.1,243.4L350.5,243.9L353.0,244.5L355.4,245.0L357.9,245.6L360.3,246.1L362.8,246.7L365.2,247.2L367.7,247.8L370.2,248.3L372.6,248.8L375.1,249.4L377.5,249.9L380.0,250.4L382.4,250.9L384.9,251.4L387.3,251.9L389.8,252.4L392.2,252.9L394.7,253.4L397.1,253.9L399.6,254.4L402.0,254.8L404.5,255.3L407.0,255.8L409.4,256.2L411.9,256.7L414.3,257.2L416.8,257.6L419.2,258.1L421.7,258.5L424.1,259.0L426.6,259.4L429.0,259.9L431.5,260.3L433.9,260.7L436.4,261.2L438.8,261.6L441.3,262.0L443.8,262.4L446.2,262.8L448.7,263.3L451.1,263.7L453.6,264.1L456.0,264.5L458.5,264.9L460.9,265.3L463.4,265.7L465.8,266.1L468.3,266.5L470.7,266.9L473.2,267.2L475.6,267.6L478.1,268.0L480.5,268.4L483.0,268.8L485.5,269.1L487.9,269.5L490.4,269.9L492.8,270.2L495.3,270.6L497.7,270.9L500.2,271.3L502.6,271.7L505.1,272.0L507.5,272.4L510.0,272.7L512.4,273.1L514.9,273.4L517.3,273.7L519.8,274.1L522.2,274.4L524.7,274.7L527.2,275.1L529.6,275.4L532.1,275.7L534.5,276.1L537.0,276.4L539.4,276.7L541.9,277.0L544.3,277.3L546.8,277.6L549.2,278.0L551.7,278.3L554.1,278.6L556.6,278.9L559.0,279.2L561.5,279.5L564.0,279.8L566.4,280.1L568.9,280.4L571.3,280.7L573.8,281.0L576.2,281.3L578.7,281.6L581.1,281.8L583.6,282.1L586.0,282.4L588.5,282.7L590.9,283.0L593.4,283.3L595.8,283.5L598.3,283.8L600.8,284.1L603.2,284.4L605.7,284.6L608.1,284.9L610.6,285.2L613.0,285.4L615.5,285.7L617.9,286.0L620.4,286.2L622.8,286.5L625.3,286.7L627.7,287.0L630.2,287.3L632.6,287.5L635.1,287.8L637.5,288.0L640.0,288.3"/><path d="M90.5,375.5L91.5,375.5L92.5,375.5L93.4,375.5L94.4,375.5L95.4,375.5L97.9,375.5L100.3,375.5L102.8,375.5L105.2,375.5L107.7,375.5L110.1,375.5L112.6,375.5L115.0,375.5L117.5,375.5L119.9,375.5L122.4,375.5L124.8,375.5L127.3,375.5L129.8,375.5L132.2,375.5L134.7,375.5L137.1,375.5L139.6,375.5L142.0,375.5L144.5,375.5L146.9,375.5L149.4,375.5L151.8,375.5L154.3,375.5L156.7,375.5L159.2,375.5L161.6,375.5L164.1,375.5L166.5,375.5L169.0,375.5L171.5,375.5L173.9,375.5L176.4,375.5L178.8,375.5L181.3,375.5L183.7,375.5L186.2,375.5L188.6,375.5L191.1,375.5L193.5,375.5L196.0,375.5L198.4,375.5L200.9,375.5L203.3,375.5L205.8,375.5L208.2,375.5L210.7,375.5L213.2,375.5L215.6,375.5L218.1,375.5L220.5,375.5L223.0,375.5L225.4,375.5L227.9,375.5L230.3,375.5L232.8,375.5L235.2,375.5L237.7,375.5L240.1,375.5L242.6,375.5L245.0,375.5L247.5,375.5L250.0,375.5L252.4,375.5L254.9,375.5L257.3,375.5L259.8,375.5L262.2,375.5L264.7,375.5L267.1,375.5L269.6,375.5L272.0,375.5L274.5,375.5L276.9,375.5L279.4,375.5L281.8,375.5L284.3,375.5L286.8,375.5L289.2,375.5L291.7,375.5L294.1,375.5L296.6,375.5L299.0,375.5L301.5,375.5L303.9,375.5L306.4,375.5L308.8,375.5L311.3,375.5L313.7,375.5L316.2,375.5L318.6,375.5L321.1,375.5L323.5,375.5L326.0,375.5L328.5,375.5L330.9,375.5L333.4,375.5L335.8,375.5L338.3,375.5L340.7,375.5L343.2,375.5L345.6,375.5L348.1,375.5L350.5,375.5L353.0,375.5L355.4,375.5L357.9,375.5L360.3,375.5L362.8,375.5L365.2,375.5L367.7,375.5L370.2,375.5L372.6,375.5L375.1,375.5L377.5,375.5L380.0,375.5L382.4,375.5L384.9,375.5L387.3,375.5L389.8,375.5L392.2,375.5L394.7,375.5L397.1,375.5L399.6,375.5L402.0,375.5L404.5,375.5L407.0,375.5L409.4,375.5L411.9,375.5L414.3,375.5L416.8,375.5L419.2,375.5L421.7,375.5L424.1,375.5L426.6,375.5L429.0,375.5L431.5,375.5L433.9,375.5L436.4,375.5L438.8,375.5L441.3,375.5L443.8,375.5L446.2,375.5L448.7,375.5L451.1,375.5L453.6,375.5L456.0,375.5L458.5,375.5L460.9,375.5L463.4,375.5L465.8,375.5L468.3,375.5L470.7,375.5L473.2,375.5L475.6,375.5L478.1,375.5L480.5,375.5L483.0,375.5L485.5,375.5L487.9,375.5L490.4,375.5L492.8,375.5L495.3,375.5L497.7,375.5L500.2,375.5L502.6,375.5L505.1,375.5L507.5,375.5L510.0,375.5L512.4,375.5L514.9,375.5L517.3,375.5L519.8,375.5L522.2,375.5L524.7,375.5L527.2,375.5L529.6,375.5L532.1,375.5L534.5,375.5L537.0,375.5L539.4,375.5L541.9,375.5L544.3,375.5L546.8,375.5L549.2,375.5L551.7,375.5L554.1,375.5L556.6,375.5L559.0,375.5L561.5,375.5L564.0,375.5L566.4,375.5L568.9,375.5L571.3,375.5L573.8,375.5L576.2,375.5L578.7,375.5L581.1,375.5L583.6,375.5L586.0,375.5L588.5,375.5L590.9,375.5L593.4,375.5L595.8,375.5L598.3,375.5L600.8,375.5L603.2,375.5L605.7,375.5L608.1,375.5L610.6,375.5L613.0,375.5L615.5,375.5L617.9,375.5L620.4,375.5L622.8,375.5L625.3,375.5L627.7,375.5L630.2,375.5L632.6,375.5L635.1,375.5L637.5,375.5L640.0,375.5"/><path d="M90.5,375.5L91.5,375.5L92.5,375.5L93.4,375.5L94.4,375.5L95.4,375.5L97.9,375.4L100.3,375.4L102.8,375.4L105.2,375.4L107.7,375.4L110.1,375.4L112.6,375.3L115.0,375.3L117.5,375.3L119.9,375.3L122.4,375.3L124.8,375.3L127.3,375.2L129.8,375.2L132.2,375.2L134.7,375.2L137.1,375.2L139.6,375.2L142.0,375.1L144.5,375.1L146.9,375.1L149.4,375.1L151.8,375.1L154.3,375.0L156.7,375.0L159.2,375.0L161.6,375.0L164.1,375.0L166.5,375.0L169.0,374.9L171.5,374.9L173.9,374.9L176.4,374.9L178.8,374.9L181.3,374.9L183.7,374.9L186.2,374.8L188.6,374.8L191.1,374.8L193.5,374.8L196.0,374.8L198.4,374.8L200.9,374.7L203.3,374.7L205.8,374.7L208.2,374.7L210.7,374.7L213.2,374.7L215.6,374.7L218.1,374.6L220.5,374.6L223.0,374.6L225.4,374.6L227.9,374.6L230.3,374.6L232.8,374.6L235.2,374.5L237.7,374.5L240.1,374.5L242.6,374.5L245.0,374.5L247.5,374.5L250.0,374.5L252.4,374.4L254.9,374.4L257.3,374.4L259.8,374.4L262.2,374.4L264.7,374.4L267.1,374.4L269.6,374.4L272.0,374.3L274.5,374.3L276.9,374.3L279.4,374.3L281.8,374.3L284.3,374.3L286.8,374.3L289.2,374.3L291.7,374.3L294.1,374.2L296.6,374.2L299.0,374.2L301.5,374.2L303.9,374.2L306.4,374.2L308.8,374.2L311.3,374.2L313.7,374.2L316.2,374.2L318.6,374.1L321.1,374.1L323.5,374.1L326.0,374.1L328.5,374.1L330.9,374.1L333.4,374.1L335.8,374.1L338.3,374.1L340.7,374.1L343.2,374.1L345.6,374.0L348.1,374.0L350.5,374.0L353.0,374.0L355.4,374.0L357.9,374.0L360.3,374.0L362.8,374.0L365.2,374.0L367.7,374.0L370.2,374.0L372.6,374.0L375.1,373.9L377.5,373.9L380.0,373.9L382.4,373.9L384.9,373.9L387.3,373.9L389.8,373.9L392.2,373.9L394.7,373.9L397.1,373.9L399.6,373.9L402.0,373.9L404.5,373.9L407.0,373.9L409.4,373.9L411.9,373.8L414.3,373.8L416.8,373.8L419.2,373.8L421.7,373.8L424.1,373.8L426.6,373.8L429.0,373.8L431.5,373.8L433.9,373.8L436.4,373.8L438.8,373.8L441.3,373.8L443.8,373.8L446.2,373.8L448.7,373.8L451.1,373.8L453.6,373.8L456.0,373.7L458.5,373.7L460.9,373.7L463.4,373.7L465.8,373.7L468.3,373.7L470.7,373.7L473.2,373.7L475.6,373.7L478.1,373.7L480.5,373.7L483.0,373.7L485.5,373.7L487.9,373.7L490.4,373.7L492.8,373.7L495.3,373.7L497.7,373.7L500.2,373.7L502.6,373.7L505.1,373.7L507.5,373.7L510.0,373.6L512.4,373.6L514.9,373.6L517.3,373.6L519.8,373.6L522.2,373.6L524.7,373.6L527.2,373.6L529.6,373.6L532.1,373.6L534.5,373.6L537.0,373.6L539.4,373.6L541.9,373.6L544.3,373.6L546.8,373.6L549.2,373.6L551.7,373.6L554.1,373.6L556.6,373.6L559.0,373.6L561.5,373.6L564.0,373.6L566.4,373.6L568.9,373.6L571.3,373.6L573.8,373.6L576.2,373.6L578.7,373.5L581.1,373.5L583.6,373.5L586.0,373.5L588.5,373.5L590.9,373.5L593.4,373.5L595.8,373.5L598.3,373.5L600.8,373.5L603.2,373.5L605.7,373.5L608.1,373.5L610.6,373.5L613.0,373.5L615.5,373.5L617.9,373.5L620.4,373.5L622.8,373.5L625.3,373.5L627.7,373.5L630.2,373.5L632.6,373.5L635.1,373.5L637.5,373.5L640.0,373.5"/></g>
<g fill="none" stroke="#3a1f9c" stroke-width="1.1"><path d="M95.3,369.6l4.6,8.6h-9.2zM149.2,368.9l4.6,8.6h-9.2zM203.1,368.2l4.6,8.6h-9.2zM257.0,367.5l4.6,8.6h-9.2zM310.9,367.0l4.6,8.6h-9.2zM364.8,366.7l4.6,8.6h-9.2zM418.8,366.4l4.6,8.6h-9.2zM472.7,366.1l4.6,8.6h-9.2zM526.6,365.9l4.6,8.6h-9.2zM580.5,365.8l4.6,8.6h-9.2zM634.4,365.7l4.6,8.6h-9.2zM95.3,369.6l4.6,8.6h-9.2zM149.2,368.0l4.6,8.6h-9.2zM203.1,366.6l4.6,8.6h-9.2zM257.0,365.4l4.6,8.6h-9.2zM310.9,364.3l4.6,8.6h-9.2zM364.8,363.4l4.6,8.6h-9.2zM418.8,362.7l4.6,8.6h-9.2zM472.7,362.2l4.6,8.6h-9.2zM526.6,361.8l4.6,8.6h-9.2zM580.5,361.6l4.6,8.6h-9.2zM634.4,361.4l4.6,8.6h-9.2zM95.3,369.4l4.6,8.6h-9.2zM149.2,366.7l4.6,8.6h-9.2zM203.1,364.2l4.6,8.6h-9.2zM257.0,362.1l4.6,8.6h-9.2zM310.9,360.4l4.6,8.6h-9.2zM364.8,359.2l4.6,8.6h-9.2zM418.8,358.4l4.6,8.6h-9.2zM472.7,357.8l4.6,8.6h-9.2zM526.6,357.4l4.6,8.6h-9.2zM580.5,357.3l4.6,8.6h-9.2zM634.4,357.2l4.6,8.6h-9.2zM95.3,369.2l4.6,8.6h-9.2zM149.2,364.4l4.6,8.6h-9.2zM203.1,360.3l4.6,8.6h-9.2zM257.0,357.1l4.6,8.6h-9.2zM310.9,354.9l4.6,8.6h-9.2zM364.8,353.5l4.6,8.6h-9.2zM418.8,352.6l4.6,8.6h-9.2zM472.7,352.2l4.6,8.6h-9.2zM526.6,352.1l4.6,8.6h-9.2zM580.5,352.2l4.6,8.6h-9.2zM634.4,352.3l4.6,8.6h-9.2zM95.3,369.0l4.6,8.6h-9.2zM149.2,361.1l4.6,8.6h-9.2zM203.1,354.8l4.6,8.6h-9.2zM257.0,350.4l4.6,8.6h-9.2zM310.9,347.8l4.6,8.6h-9.2zM364.8,346.4l4.6,8.6h-9.2zM418.8,345.7l4.6,8.6h-9.2zM472.7,345.6l4.6,8.6h-9.2zM526.6,345.7l4.6,8.6h-9.2zM580.5,345.9l4.6,8.6h-9.2zM634.4,346.2l4.6,8.6h-9.2zM95.3,368.6l4.6,8.6h-9.2zM149.2,356.5l4.6,8.6h-9.2zM203.1,347.6l4.6,8.6h-9.2zM257.0,342.2l4.6,8.6h-9.2zM310.9,339.4l4.6,8.6h-9.2zM364.8,338.2l4.6,8.6h-9.2zM418.8,337.7l4.6,8.6h-9.2zM472.7,337.7l4.6,8.6h-9.2zM526.6,337.9l4.6,8.6h-9.2zM580.5,338.2l4.6,8.6h-9.2zM634.4,338.5l4.6,8.6h-9.2zM95.3,368.0l4.6,8.6h-9.2zM149.2,350.7l4.6,8.6h-9.2zM203.1,339.0l4.6,8.6h-9.2zM257.0,332.9l4.6,8.6h-9.2zM310.9,330.2l4.6,8.6h-9.2zM364.8,329.2l4.6,8.6h-9.2zM418.8,328.9l4.6,8.6h-9.2zM472.7,329.0l4.6,8.6h-9.2zM526.6,329.1l4.6,8.6h-9.2zM580.5,329.4l4.6,8.6h-9.2zM634.4,329.6l4.6,8.6h-9.2zM95.3,367.4l4.6,8.6h-9.2zM149.2,343.9l4.6,8.6h-9.2zM203.1,329.6l4.6,8.6h-9.2zM257.0,323.3l4.6,8.6h-9.2zM310.9,321.1l4.6,8.6h-9.2zM364.8,320.5l4.6,8.6h-9.2zM418.8,320.6l4.6,8.6h-9.2zM472.7,320.9l4.6,8.6h-9.2zM526.6,321.3l4.6,8.6h-9.2zM580.5,321.7l4.6,8.6h-9.2zM634.4,322.1l4.6,8.6h-9.2zM95.3,366.6l4.6,8.6h-9.2zM149.2,336.3l4.6,8.6h-9.2zM203.1,320.0l4.6,8.6h-9.2zM257.0,314.1l4.6,8.6h-9.2zM310.9,312.7l4.6,8.6h-9.2zM364.8,312.8l4.6,8.6h-9.2zM418.8,313.5l4.6,8.6h-9.2zM472.7,314.3l4.6,8.6h-9.2zM526.6,315.1l4.6,8.6h-9.2zM580.5,315.9l4.6,8.6h-9.2zM634.4,316.7l4.6,8.6h-9.2zM95.3,365.7l4.6,8.6h-9.2zM149.2,328.3l4.6,8.6h-9.2zM203.1,310.8l4.6,8.6h-9.2zM257.0,305.7l4.6,8.6h-9.2zM310.9,305.3l4.6,8.6h-9.2zM364.8,306.2l4.6,8.6h-9.2zM418.8,307.5l4.6,8.6h-9.2zM472.7,308.8l4.6,8.6h-9.2zM526.6,310.1l4.6,8.6h-9.2zM580.5,311.3l4.6,8.6h-9.2zM634.4,312.5l4.6,8.6h-9.2zM95.3,364.8l4.6,8.6h-9.2zM149.2,320.2l4.6,8.6h-9.2zM203.1,302.0l4.6,8.6h-9.2zM257.0,298.2l4.6,8.6h-9.2zM310.9,298.8l4.6,8.6h-9.2zM364.8,300.4l4.6,8.6h-9.2zM418.8,302.3l4.6,8.6h-9.2zM472.7,304.1l4.6,8.6h-9.2zM526.6,305.8l4.6,8.6h-9.2zM580.5,307.5l4.6,8.6h-9.2zM634.4,309.0l4.6,8.6h-9.2zM95.3,363.8l4.6,8.6h-9.2zM149.2,312.2l4.6,8.6h-9.2zM203.1,294.0l4.6,8.6h-9.2zM257.0,291.4l4.6,8.6h-9.2zM310.9,293.0l4.6,8.6h-9.2zM364.8,295.3l4.6,8.6h-9.2zM418.8,297.7l4.6,8.6h-9.2zM472.7,300.0l4.6,8.6h-9.2zM526.6,302.1l4.6,8.6h-9.2zM580.5,304.2l4.6,8.6h-9.2zM634.4,306.1l4.6,8.6h-9.2zM95.3,362.8l4.6,8.6h-9.2zM149.2,304.4l4.6,8.6h-9.2zM203.1,286.5l4.6,8.6h-9.2zM257.0,285.3l4.6,8.6h-9.2zM310.9,287.7l4.6,8.6h-9.2zM364.8,290.7l4.6,8.6h-9.2zM418.8,293.6l4.6,8.6h-9.2zM472.7,296.3l4.6,8.6h-9.2zM526.6,298.9l4.6,8.6h-9.2zM580.5,301.3l4.6,8.6h-9.2zM634.4,303.5l4.6,8.6h-9.2zM95.3,361.8l4.6,8.6h-9.2zM149.2,296.8l4.6,8.6h-9.2zM203.1,279.5l4.6,8.6h-9.2zM257.0,279.5l4.6,8.6h-9.2zM310.9,282.8l4.6,8.6h-9.2zM364.8,286.5l4.6,8.6h-9.2zM418.8,289.9l4.6,8.6h-9.2zM472.7,293.1l4.6,8.6h-9.2zM526.6,296.0l4.6,8.6h-9.2zM580.5,298.7l4.6,8.6h-9.2zM634.4,301.2l4.6,8.6h-9.2zM95.3,360.7l4.6,8.6h-9.2zM149.2,289.4l4.6,8.6h-9.2zM203.1,273.0l4.6,8.6h-9.2zM257.0,274.2l4.6,8.6h-9.2zM310.9,278.3l4.6,8.6h-9.2zM364.8,282.5l4.6,8.6h-9.2zM418.8,286.4l4.6,8.6h-9.2zM472.7,290.0l4.6,8.6h-9.2zM526.6,293.3l4.6,8.6h-9.2zM580.5,296.3l4.6,8.6h-9.2zM634.4,299.1l4.6,8.6h-9.2zM95.3,359.6l4.6,8.6h-9.2zM149.2,282.0l4.6,8.6h-9.2zM203.1,266.6l4.6,8.6h-9.2zM257.0,269.1l4.6,8.6h-9.2zM310.9,274.0l4.6,8.6h-9.2zM364.8,278.8l4.6,8.6h-9.2zM418.8,283.1l4.6,8.6h-9.2zM472.7,287.1l4.6,8.6h-9.2zM526.6,290.8l4.6,8.6h-9.2zM580.5,294.1l4.6,8.6h-9.2zM634.4,297.2l4.6,8.6h-9.2zM95.3,358.4l4.6,8.6h-9.2zM149.2,274.4l4.6,8.6h-9.2zM203.1,260.4l4.6,8.6h-9.2zM257.0,264.1l4.6,8.6h-9.2zM310.9,269.8l4.6,8.6h-9.2zM364.8,275.1l4.6,8.6h-9.2zM418.8,280.0l4.6,8.6h-9.2zM472.7,284.4l4.6,8.6h-9.2zM526.6,288.4l4.6,8.6h-9.2zM580.5,292.0l4.6,8.6h-9.2zM634.4,295.3l4.6,8.6h-9.2zM95.3,357.1l4.6,8.6h-9.2zM149.2,266.8l4.6,8.6h-9.2zM203.1,254.4l4.6,8.6h-9.2zM257.0,259.3l4.6,8.6h-9.2zM310.9,265.7l4.6,8.6h-9.2zM364.8,271.7l4.6,8.6h-9.2zM418.8,277.0l4.6,8.6h-9.2zM472.7,281.8l4.6,8.6h-9.2zM526.6,286.1l4.6,8.6h-9.2zM580.5,290.0l4.6,8.6h-9.2zM634.4,293.5l4.6,8.6h-9.2zM95.3,355.7l4.6,8.6h-9.2zM149.2,259.1l4.6,8.6h-9.2zM203.1,248.5l4.6,8.6h-9.2zM257.0,254.6l4.6,8.6h-9.2zM310.9,261.8l4.6,8.6h-9.2zM364.8,268.3l4.6,8.6h-9.2zM418.8,274.1l4.6,8.6h-9.2zM472.7,279.2l4.6,8.6h-9.2zM526.6,283.9l4.6,8.6h-9.2zM580.5,288.0l4.6,8.6h-9.2zM634.4,291.8l4.6,8.6h-9.2zM95.3,354.3l4.6,8.6h-9.2zM149.2,251.3l4.6,8.6h-9.2zM203.1,242.7l4.6,8.6h-9.2zM257.0,250.1l4.6,8.6h-9.2zM310.9,258.0l4.6,8.6h-9.2zM364.8,265.1l4.6,8.6h-9.2zM418.8,271.3l4.6,8.6h-9.2zM472.7,276.8l4.6,8.6h-9.2zM526.6,281.8l4.6,8.6h-9.2zM580.5,286.2l4.6,8.6h-9.2zM634.4,290.2l4.6,8.6h-9.2zM95.3,352.7l4.6,8.6h-9.2zM149.2,243.7l4.6,8.6h-9.2zM203.1,237.2l4.6,8.6h-9.2zM257.0,245.7l4.6,8.6h-9.2zM310.9,254.4l4.6,8.6h-9.2zM364.8,262.0l4.6,8.6h-9.2zM418.8,268.7l4.6,8.6h-9.2zM472.7,274.6l4.6,8.6h-9.2zM526.6,279.8l4.6,8.6h-9.2zM580.5,284.5l4.6,8.6h-9.2zM634.4,288.8l4.6,8.6h-9.2zM95.3,351.1l4.6,8.6h-9.2zM149.2,236.1l4.6,8.6h-9.2zM203.1,231.8l4.6,8.6h-9.2zM257.0,241.5l4.6,8.6h-9.2zM310.9,250.9l4.6,8.6h-9.2zM364.8,259.1l4.6,8.6h-9.2zM418.8,266.2l4.6,8.6h-9.2zM472.7,272.4l4.6,8.6h-9.2zM526.6,278.0l4.6,8.6h-9.2zM580.5,282.9l4.6,8.6h-9.2zM634.4,287.4l4.6,8.6h-9.2zM95.3,349.4l4.6,8.6h-9.2zM149.2,228.6l4.6,8.6h-9.2zM203.1,226.6l4.6,8.6h-9.2zM257.0,237.4l4.6,8.6h-9.2zM310.9,247.6l4.6,8.6h-9.2zM364.8,256.3l4.6,8.6h-9.2zM418.8,263.8l4.6,8.6h-9.2zM472.7,270.5l4.6,8.6h-9.2zM526.6,276.3l4.6,8.6h-9.2zM580.5,281.5l4.6,8.6h-9.2zM634.4,286.1l4.6,8.6h-9.2zM95.3,347.6l4.6,8.6h-9.2zM149.2,221.3l4.6,8.6h-9.2zM203.1,221.6l4.6,8.6h-9.2zM257.0,233.6l4.6,8.6h-9.2zM310.9,244.4l4.6,8.6h-9.2zM364.8,253.7l4.6,8.6h-9.2zM418.8,261.7l4.6,8.6h-9.2zM472.7,268.6l4.6,8.6h-9.2zM526.6,274.8l4.6,8.6h-9.2zM580.5,280.2l4.6,8.6h-9.2zM634.4,285.0l4.6,8.6h-9.2zM95.3,345.9l4.6,8.6h-9.2zM149.2,214.3l4.6,8.6h-9.2zM203.1,216.7l4.6,8.6h-9.2zM257.0,229.8l4.6,8.6h-9.2zM310.9,241.4l4.6,8.6h-9.2zM364.8,251.2l4.6,8.6h-9.2zM418.8,259.7l4.6,8.6h-9.2zM472.7,267.0l4.6,8.6h-9.2zM526.6,273.4l4.6,8.6h-9.2zM580.5,279.0l4.6,8.6h-9.2zM634.4,284.1l4.6,8.6h-9.2zM95.3,344.2l4.6,8.6h-9.2zM149.2,207.7l4.6,8.6h-9.2zM203.1,212.2l4.6,8.6h-9.2zM257.0,226.4l4.6,8.6h-9.2zM310.9,238.7l4.6,8.6h-9.2zM364.8,249.1l4.6,8.6h-9.2zM418.8,257.9l4.6,8.6h-9.2zM472.7,265.6l4.6,8.6h-9.2zM526.6,272.3l4.6,8.6h-9.2zM580.5,278.1l4.6,8.6h-9.2zM634.4,283.3l4.6,8.6h-9.2zM95.3,343.5l4.6,8.6h-9.2zM149.2,203.3l4.6,8.6h-9.2zM203.1,208.3l4.6,8.6h-9.2zM257.0,223.3l4.6,8.6h-9.2zM310.9,236.4l4.6,8.6h-9.2zM364.8,247.3l4.6,8.6h-9.2zM418.8,256.5l4.6,8.6h-9.2zM472.7,264.5l4.6,8.6h-9.2zM526.6,271.4l4.6,8.6h-9.2zM580.5,277.5l4.6,8.6h-9.2zM634.4,282.8l4.6,8.6h-9.2zM95.3,343.6l4.6,8.6h-9.2zM149.2,200.4l4.6,8.6h-9.2zM203.1,204.9l4.6,8.6h-9.2zM257.0,220.7l4.6,8.6h-9.2zM310.9,234.4l4.6,8.6h-9.2zM364.8,245.8l4.6,8.6h-9.2zM418.8,255.5l4.6,8.6h-9.2zM472.7,263.7l4.6,8.6h-9.2zM526.6,270.9l4.6,8.6h-9.2zM580.5,277.1l4.6,8.6h-9.2zM634.4,282.6l4.6,8.6h-9.2zM95.3,343.6l4.6,8.6h-9.2zM149.2,197.9l4.6,8.6h-9.2zM203.1,201.9l4.6,8.6h-9.2zM257.0,218.5l4.6,8.6h-9.2zM310.9,232.9l4.6,8.6h-9.2zM364.8,244.8l4.6,8.6h-9.2zM418.8,254.8l4.6,8.6h-9.2zM472.7,263.3l4.6,8.6h-9.2zM526.6,270.6l4.6,8.6h-9.2zM580.5,277.0l4.6,8.6h-9.2zM634.4,282.6l4.6,8.6h-9.2zM95.3,343.6l4.6,8.6h-9.2zM149.2,195.3l4.6,8.6h-9.2zM203.1,198.6l4.6,8.6h-9.2zM257.0,216.0l4.6,8.6h-9.2zM310.9,231.0l4.6,8.6h-9.2zM364.8,243.5l4.6,8.6h-9.2zM418.8,253.9l4.6,8.6h-9.2zM472.7,262.7l4.6,8.6h-9.2zM526.6,270.2l4.6,8.6h-9.2zM580.5,276.8l4.6,8.6h-9.2zM634.4,282.5l4.6,8.6h-9.2zM95.3,343.6l4.6,8.6h-9.2zM149.2,192.0l4.6,8.6h-9.2zM203.1,194.2l4.6,8.6h-9.2zM257.0,212.4l4.6,8.6h-9.2zM310.9,228.3l4.6,8.6h-9.2zM364.8,241.3l4.6,8.6h-9.2zM418.8,252.2l4.6,8.6h-9.2zM472.7,261.4l4.6,8.6h-9.2zM526.6,269.2l4.6,8.6h-9.2zM580.5,276.0l4.6,8.6h-9.2zM634.4,281.9l4.6,8.6h-9.2zM95.3,369.7l4.6,8.6h-9.2zM149.2,369.7l4.6,8.6h-9.2zM203.1,369.7l4.6,8.6h-9.2zM257.0,369.7l4.6,8.6h-9.2zM310.9,369.7l4.6,8.6h-9.2zM364.8,369.7l4.6,8.6h-9.2zM418.8,369.7l4.6,8.6h-9.2zM472.7,369.7l4.6,8.6h-9.2zM526.6,369.7l4.6,8.6h-9.2zM580.5,369.7l4.6,8.6h-9.2zM634.4,369.7l4.6,8.6h-9.2zM95.3,369.7l4.6,8.6h-9.2zM149.2,369.3l4.6,8.6h-9.2zM203.1,368.9l4.6,8.6h-9.2zM257.0,368.6l4.6,8.6h-9.2zM310.9,368.4l4.6,8.6h-9.2zM364.8,368.2l4.6,8.6h-9.2zM418.8,368.0l4.6,8.6h-9.2zM472.7,367.9l4.6,8.6h-9.2zM526.6,367.8l4.6,8.6h-9.2zM580.5,367.7l4.6,8.6h-9.2zM634.4,367.7l4.6,8.6h-9.2z"/></g>
<path d="M608.7,368.5C606.6,368.9 599.9,370.2 596.0,371.2C592.1,372.2 588.7,373.5 585.6,374.5C582.5,375.5 580.2,376.2 577.6,377.1C575.0,378.0 572.3,379.0 569.7,379.8C567.1,380.6 564.4,381.4 561.8,381.8C559.1,382.2 555.6,382.6 553.8,382.0C552.0,381.4 552.0,380.1 551.2,378.5C550.5,376.9 550.1,374.3 549.3,372.5C548.5,370.7 548.5,369.5 546.3,367.8C544.1,366.1 540.0,364.0 535.9,362.4C531.8,360.8 527.7,359.7 521.8,357.9C515.9,356.1 508.8,354.3 500.6,351.8C492.4,349.3 484.2,346.2 472.4,342.9C460.6,339.6 439.2,334.3 430.0,332.0C420.8,329.7 423.4,330.6 417.0,329.1C410.6,327.6 400.6,325.1 391.8,323.2C383.0,321.3 374.4,319.7 364.1,317.6C353.8,315.5 338.9,312.5 330.0,310.7C321.1,308.9 318.3,308.0 310.6,306.7C302.9,305.4 293.6,304.3 283.9,302.7C274.2,301.1 261.4,298.6 252.4,297.0C243.4,295.4 236.0,294.2 230.0,293.2C224.0,292.2 220.9,291.9 216.4,291.2C211.9,290.5 207.6,289.9 203.2,289.2C198.8,288.5 194.3,287.9 189.9,287.2C185.5,286.5 181.0,286.0 176.6,285.2C172.2,284.4 167.7,283.6 163.3,282.5C158.9,281.4 154.3,280.0 150.0,278.8C145.7,277.6 142.7,276.8 137.4,275.4C132.2,274.0 123.5,272.2 118.5,270.6C113.5,269.0 110.1,267.6 107.1,265.9C104.1,264.2 101.8,262.1 100.4,260.2C99.0,258.3 98.5,256.4 98.5,254.5C98.5,252.6 99.3,250.7 100.4,248.8C101.5,246.9 103.3,245.2 105.2,243.1C107.1,241.0 109.3,238.7 111.8,236.5C114.3,234.3 117.4,232.2 120.4,229.8C123.4,227.4 126.3,225.1 129.8,222.3C133.3,219.5 137.4,216.0 141.2,212.8C145.0,209.6 149.8,205.3 152.6,203.0C155.4,200.7 156.0,200.6 158.0,199.0C160.0,197.4 162.1,195.7 164.5,193.4C166.9,191.2 169.8,188.2 172.5,185.5C175.2,182.8 178.3,179.9 180.5,177.5C182.7,175.1 184.2,173.6 185.8,170.9C187.5,168.2 189.5,164.7 190.4,161.6C191.3,158.5 191.7,155.0 191.1,152.3C190.5,149.6 189.3,146.9 187.1,145.6C184.9,144.3 181.1,144.2 177.8,144.3C174.5,144.4 170.3,145.2 167.2,146.3C164.1,147.4 161.8,148.8 159.2,150.9C156.6,153.0 154.0,155.8 151.9,158.9C149.8,162.0 147.9,165.7 146.6,169.5C145.3,173.3 144.6,177.5 144.0,181.5C143.4,185.5 143.3,190.4 143.3,193.4C143.3,196.4 143.7,196.9 144.1,199.5C144.5,202.1 144.9,205.5 146.0,209.0C147.1,212.5 149.1,216.3 150.7,220.4C152.3,224.5 154.0,229.7 155.5,233.6C157.0,237.5 158.0,240.8 159.5,244.0C161.0,247.2 162.2,249.8 164.5,252.5C166.8,255.2 170.2,257.2 173.5,260.2C176.8,263.2 181.2,267.6 184.6,270.6C188.0,273.7 190.8,276.0 193.9,278.5C197.0,281.0 200.3,283.8 203.2,285.8C206.1,287.8 208.3,289.1 211.1,290.5C213.9,291.9 215.8,292.4 220.0,294.2C224.2,295.9 230.0,298.2 236.2,301.0C242.4,303.8 251.0,307.9 257.2,310.7C263.4,313.5 268.0,315.8 273.4,318.0C278.8,320.2 283.4,321.7 289.6,323.7C295.8,325.7 305.5,328.7 310.6,330.2C315.7,331.7 311.1,330.3 320.0,332.6C328.9,334.9 350.9,341.0 364.1,344.1C377.3,347.2 389.4,349.2 399.4,351.2C409.4,353.2 417.3,355.0 424.1,356.1C430.9,357.2 433.1,357.1 440.0,358.0C446.9,358.9 455.2,360.5 465.3,361.5C475.4,362.5 488.8,363.3 500.6,364.1C512.4,364.9 528.0,365.6 535.9,366.2C543.8,366.8 544.6,366.8 548.0,368.0C551.4,369.2 553.3,371.6 556.5,373.2C559.7,374.8 563.9,376.5 567.0,377.8C570.1,379.1 572.7,380.2 575.0,381.1C577.3,382.0 579.6,382.3 581.0,383.1C582.4,383.9 583.5,384.9 583.6,385.7C583.7,386.5 583.0,387.5 581.6,387.7C580.2,387.9 577.4,387.6 575.0,387.0C572.6,386.4 569.4,385.4 567.0,384.4C564.6,383.4 562.6,382.2 560.4,381.1C558.2,380.0 554.9,378.5 553.8,378.0" fill="none" stroke="#d0268c" stroke-width="1" stroke-linejoin="round"/>
<path d="M185.8,144.3 h2.6 v2.6 h-2.6 zM142.0,192.1 h2.6 v2.6 h-2.6 zM110.5,235.2 h2.6 v2.6 h-2.6 zM172.2,258.9 h2.6 v2.6 h-2.6 zM282.6,301.4 h2.6 v2.6 h-2.6 zM422.8,354.8 h2.6 v2.6 h-2.6 zM545.0,366.5 h2.6 v2.6 h-2.6 zM552.5,380.7 h2.6 v2.6 h-2.6 zM579.7,381.8 h2.6 v2.6 h-2.6 zM607.4,367.2 h2.6 v2.6 h-2.6 z" fill="#d0268c"/>
<rect x="90.5" y="111.5" width="549" height="330" fill="none" stroke="#4a4a4a" stroke-width="1"/>
</svg>
<div class="t lg" style="left:130px;top:41.6px;transform:scaleX(0.97)">IVCurve() (mA)</div>
<div class="t lg" style="left:130px;top:51.6px">IV.AP_DC</div>
<div class="t lg" style="left:374px;top:41.6px;transform:scaleX(0.994)">IVDLL(S1\V_METER.VM1,S1\I_METER.I_drain_int)[*] (mA)</div>
<div class="t lg" style="left:374px;top:51.6px">Load_lines.AP_HB</div>
<div class="t" style="left:332px;top:84.3px;font-size:20.5px;font-weight:bold;font-family:'Liberation Serif',serif;transform:scaleX(0.973);transform-origin:0 0;-webkit-text-stroke:0.3px #000">IV DLL</div>
<div class="t yl" style="top:105.7px">8000</div>
<div class="t yl" style="top:171.7px">6000</div>
<div class="t yl" style="top:237.7px">4000</div>
<div class="t yl" style="top:303.7px">2000</div>
<div class="t yl" style="top:369.7px">0</div>
<div class="t yl" style="top:435.7px">-2000</div>
<div class="t xl" style="left:90.5px">0</div>
<div class="t xl" style="left:286.7px">20</div>
<div class="t xl" style="left:482.6px">40</div>
<div class="t xl" style="left:639.4px">56</div>
<div class="t xl" style="left:365.4px;top:482.5px;width:120px;margin-left:-60px">Voltage (V)</div>
<div class="t" style="left:145px;top:445px;font-size:6.5px;-webkit-text-stroke:0.25px #000;letter-spacing:-0.1px">6.706 V</div>
<div class="t" style="left:354.5px;top:445px;font-size:6.5px;-webkit-text-stroke:0.25px #000;letter-spacing:-0.1px">27.95 V</div>
<div class="t" style="left:564px;top:445px;font-size:6.5px;-webkit-text-stroke:0.25px #000;letter-spacing:-0.1px">49.32 V</div>
</body></html>
